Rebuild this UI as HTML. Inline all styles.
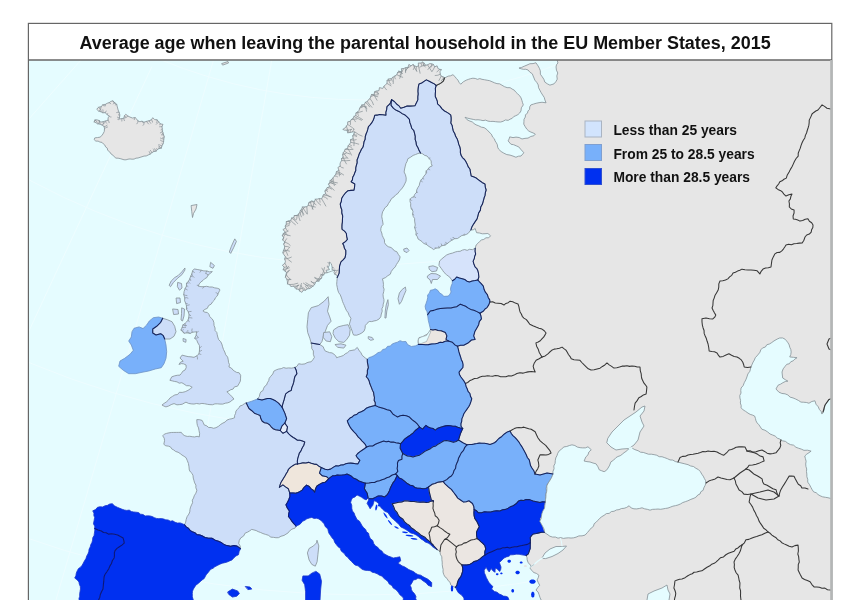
<!DOCTYPE html>
<html><head><meta charset="utf-8"><title>Average age when leaving the parental household</title>
<style>
html,body{margin:0;padding:0;background:#fff;}
body{width:850px;height:600px;overflow:hidden;position:relative;font-family:"Liberation Sans",sans-serif;}
#map{position:absolute;left:0;top:0;filter:blur(0.45px);}
#title{position:absolute;left:28px;top:25.3px;width:804px;height:36px;line-height:36px;text-align:left;padding-left:51.5px;box-sizing:border-box;font-weight:bold;font-size:17.94px;color:#111;letter-spacing:0px;white-space:nowrap;filter:blur(0.35px);}
.lg{position:absolute;left:613.4px;font-weight:bold;font-size:13.82px;color:#111;white-space:nowrap;line-height:14px;filter:blur(0.35px);}
</style></head><body>
<svg id="map" width="850" height="608" viewBox="0 0 850 608">
<defs><clipPath id="c"><rect x="29" y="60" width="803" height="548"/></clipPath></defs>
<rect x="28.4" y="23.4" width="803.4" height="600" fill="#fff" stroke="#666" stroke-width="1.2"/>
<rect x="29" y="60" width="803" height="548" fill="#e5fcff"/>
<g clip-path="url(#c)" stroke-linejoin="round" stroke-linecap="round">
<g fill="none" stroke="#eefdff" stroke-width="1">
<path d="M271.8,60 L177,600"/><path d="M213.5,60 L56,600"/><path d="M151.7,67 L28,333"/><path d="M81,60 L28,120"/>
<circle cx="365" cy="-440" r="540"/><circle cx="365" cy="-440" r="705"/><circle cx="365" cy="-440" r="870"/><circle cx="365" cy="-440" r="1035"/>
</g>
<path d="M444.5,78 L448.1,76.17 L450.56,75.81 L452.94,74.7 L454.86,76.48 L456.29,78.38 L457.9,80.1 L459.05,82.33 L460.69,84.23 L463.34,81.8 L466.16,80.2 L468.31,79.42 L470.59,78.66 L472.92,78.21 L475.28,78.46 L477.47,79.33 L479.8,78.59 L482.01,79.33 L484.58,79.75 L487.12,80.23 L489.67,80.7 L492.07,81.73 L494.49,82.8 L496.96,83.63 L499.62,83.84 L501.94,85.2 L504.42,86.65 L507.09,87.64 L510.12,87.69 L512.18,89.07 L514.32,90.18 L515.87,92.19 L517.72,93.96 L519.67,95.72 L521.07,97.94 L521.86,100.28 L522.52,102.61 L523.3,104.91 L521.36,107.79 L520.96,110.99 L519.67,113 L517.95,114.61 L515.74,115.74 L513.78,116.55 L512.18,118.36 L510.09,119.18 L508.18,120.37 L505.39,119.96 L503.06,121.32 L500.61,122.03 L497.99,121.94 L495.51,121.68 L493.01,121.36 L490.48,121.48 L487.99,121.11 L485.56,120.15 L482.99,120.64 L480.52,120.09 L478.02,119.76 L475.6,119.88 L473.26,119.42 L470.93,118.95 L467.95,118.27 L465.03,117.26 L467.11,119.74 L469.92,121.12 L472.27,121.93 L474.08,123.54 L476.1,124.85 L478.73,125.82 L481.28,127.15 L484.13,127.64 L486.85,129.56 L489.02,131.97 L491.39,134.18 L492.72,137.23 L494.41,138.8 L495.09,140.96 L496.36,142.82 L497.37,144.82 L497.65,147.17 L498.65,149.18 L501.09,151.51 L503.86,153.18 L506.81,154.58 L509.97,155.08 L512.98,156.06 L515.92,157.24 L518.44,156.21 L521,156.02 L523.81,152.81 L522.38,151.09 L520.68,149.24 L518.84,146.94 L516.13,145.79 L513.62,144.71 L510.91,144.23 L508.1,140.9 L509.07,139.04 L509.74,136.87 L513,137.62 L516,137.1 L519.16,137.52 L522.01,138.97 L524.97,138.35 L528.02,138.1 L530.82,136.47 L533.91,135.73 L535.3,134.15 L533.05,132.9 L530.95,132.11 L528.66,130.95 L526.85,129.2 L525.2,126.68 L523.77,124.14 L523.93,121.61 L524,119.24 L525.34,117.05 L525.44,114.72 L527.46,113.23 L527.97,110.98 L529.6,109.3 L529.71,106.85 L530.87,104.93 L533.53,104.07 L536.11,103.28 L539.03,102.67 L542.04,102.25 L546.05,102.8 L544.93,100.02 L544.23,97.41 L542.69,95.13 L541.17,92.7 L539.8,90.12 L538.56,87.68 L538.22,84.91 L536.72,82.37 L534.8,80.12 L534,78 L533.11,75.94 L532.33,73.83 L529.85,72.15 L528.02,69.98 L525.8,69.26 L523.43,69.33 L521.18,68.82 L518.99,68.06 L521.66,67.4 L524.11,66.27 L527.02,65.05 L529.91,63.73 L533.02,63.6 L535.96,62.77 L538.09,65.94 L539.39,68.34 L540.33,70.87 L540.37,74.21 L542.29,76.9 L543.87,79.28 L544.83,82.1 L547.31,83.82 L549.92,85.13 L553.97,83.89 L555.84,81.7 L557.27,79.16 L556.83,75.89 L557.78,72.96 L556.44,70.19 L556.06,66.98 L556.49,64.74 L557.95,62.97 L557.23,60.39 L557.36,57.66 L557,55 L840,55 L840,606 L535,606 L537.06,604.09 L539.15,602.21 L541.18,600.28 L539.91,597.26 L539.03,594.49 L538.05,591.97 L535.99,590.08 L537.84,587.44 L539.69,585.24 L538.36,582.74 L537.09,579.95 L538.27,577.67 L538.92,575.27 L536.48,573.45 L533.53,572.45 L531.99,570.41 L530.11,568.69 L530.77,565.19 L529.68,564.52 L528.1,562.38 L527.15,559.9 L527.03,557.65 L526.1,555.5 L515,530 L500,480 L450,455 L440,400 L440,352 L442,325 L450,300 L462,266 L475.2,248.3 L476.12,245.02 L477.93,243.27 L479.57,241.56 L481.45,239.95 L483.79,239.41 L485.97,237.77 L488.7,237.8 L490.56,235.78 L487.9,233.5 L485.03,233.71 L482.3,233.82 L479.51,233.03 L476.62,232.69 L475.83,230.62 L475.21,228.53 L473.25,229.82 L470.9,229.9 L471.98,226.7 L473.71,223.85 L475.35,221.34 L477.07,218.87 L477.88,215.96 L478.67,212.89 L480.42,210.14 L480.74,206.91 L482.42,204.14 L483.26,201.09 L484.05,198.01 L485.04,195.43 L485.35,192.67 L486.13,189.98 L485.27,187.04 L484.99,184.02 L482.41,182.69 L480.09,181.01 L477.87,179.3 L475.79,177.71 L473.43,176.78 L471.16,175.98 L470.53,172.5 L469.93,169.04 L468.24,166.91 L467.26,164.38 L466.07,161.95 L464.56,159.51 L462.37,157.54 L460.95,155.01 L460.35,152.37 L460.43,149.66 L459.86,147.05 L458.76,144.42 L458.09,141.63 L457.19,138.91 L455.64,136.34 L454.7,133.48 L453.25,130.94 L452.63,128.26 L452.17,125.54 L450.78,123.01 L451.14,120.31 L451.13,117.64 L450.67,114.81 L447.47,112.61 L444.53,111.02 L441.96,108.85 L440.07,106.13 L437.53,103.92 L437.35,101.4 L436.5,99.08 L435.34,96.8 L435.26,94 L435.53,91.2 L435.33,88.29 L436.2,85.5 L440.5,83.4 L443.3,81.2 L444.5,78Z" fill="#e6e6e6" stroke="#848f96" stroke-width="0.8"/>
<path d="M97,109 L98.64,107.15 L101.24,106.76 L102.72,104.78 L105.19,104.47 L107.16,103.29 L109.13,102.71 L110.9,101.37 L112.95,100.86 L114.79,102.78 L116.73,104.36 L117.08,106.04 L117.6,108.01 L118.11,109.98 L119.14,112.44 L119.8,115.08 L119.61,117.03 L118.97,118.99 L121.54,118.71 L124.02,118.12 L124.36,115.84 L125.77,114.27 L127.82,115.98 L129.96,117.06 L132.39,118.03 L135.08,117.58 L136.8,119.2 L138,121 L139.94,121.72 L142.08,121.19 L143.96,122.25 L146.47,121.36 L148.96,120.82 L151.32,119.92 L152.77,117.7 L154.69,119.62 L157.08,119.84 L158.68,121.87 L160.23,123.83 L163,124.37 L161.96,126.58 L162.26,129.06 L162.42,131.02 L163.06,132.99 L163.65,134.95 L164.25,136.9 L163.81,139.03 L163.63,141.53 L163.03,144.01 L161.85,145.93 L161.34,148.17 L159.07,148.56 L157.34,149.46 L156.12,151.2 L153.77,151.55 L151.86,152.72 L150.09,154.17 L148.12,155.02 L146.21,155.96 L144.03,156.08 L142.02,156.74 L140.01,157.35 L138.01,158.02 L135.99,158.17 L134.07,159.1 L132.05,159.19 L129.99,158.94 L128,159.19 L126.04,159.82 L124.03,159.81 L121.97,159.14 L120.12,158.6 L118.09,158.18 L115.96,158.13 L114.25,156.77 L112.87,155.08 L111.04,153.95 L109.68,151.87 L107.64,150.27 L107.29,148.16 L105.59,146.91 L104.86,145.09 L103.36,143.96 L102.04,142.38 L99.95,142.08 L98.07,141.11 L95.85,141.11 L94.13,139.6 L94.78,137.89 L97.51,137.56 L100.03,137.17 L101.73,135.73 L102.96,133.96 L104.22,131.59 L104.56,128.83 L104.12,126.53 L102.04,124.97 L100.05,124.11 L97.86,123.87 L95.99,122.78 L94.05,121.87 L94.92,119.96 L97.15,119.91 L99.12,120.53 L100.85,122.08 L103.07,121.73 L105.51,121.02 L108.08,120.19 L108.07,117.89 L109.29,116.07 L106.98,114.53 L105.26,112.66 L102.85,112.78 L100.96,111.78 L98.96,111.13Z" fill="#e6e6e6" stroke="#848f96" stroke-width="0.8"/>
<path d="M337.3,277.4 L337.11,275.31 L334.92,274.4 L334,272.74 L334.59,270.46 L331.94,269.61 L332.26,267.52 L331.76,265.54 L331.21,263.58 L329.6,262.02 L329.35,263.61 L329.26,265.6 L328.19,267.35 L329.4,269.71 L326.14,270.3 L327.24,272.73 L324.67,272.94 L323.82,274.82 L322.02,275.53 L321.65,278.1 L319.93,279.23 L319,281.15 L316.35,281.35 L315.23,282.85 L314.48,284.82 L313.11,286.07 L311.6,287.17 L309.68,288.56 L307.2,288.85 L305.46,290.29 L303.35,290.07 L301.9,292.37 L299.55,291.01 L298.72,289.28 L296.43,289.03 L294.95,287.64 L293.47,286.21 L290.78,286.5 L289.72,284.58 L287.51,283.99 L287.36,281.34 L286.88,279.32 L285.36,277.08 L286.2,274.61 L286.37,272.52 L285.05,270.99 L283.14,269.69 L284.23,267.21 L282.35,265.27 L284.88,263.33 L285.44,261.24 L284.65,259.04 L285.36,256.77 L283.94,254.74 L282.84,252.69 L283.45,250.5 L284.39,248.43 L284.65,246.32 L283.68,244.1 L285,242.07 L282.63,239.99 L283.84,237.75 L282.3,235.74 L283.25,233.52 L285.21,231.82 L282.86,229.6 L285.69,228.07 L285.22,226.1 L286.23,224.3 L286.32,221.58 L288.71,220.93 L290.79,220.5 L291.65,217.95 L293.82,217.68 L294.22,215.67 L297.22,215.42 L298.6,213.95 L299.82,212.36 L300.36,210.27 L301.72,209.19 L302.5,206.89 L304.77,206.95 L306.81,206.66 L308.24,205.39 L308.71,202.82 L310.18,201.77 L311.81,200.97 L314.42,201.64 L315.33,199.14 L317.47,199.1 L319.37,198.53 L321.67,198.85 L322.73,196.4 L323.37,194.85 L325.71,193.8 L324.91,191 L326.12,189.31 L327.25,187.58 L329.9,186.63 L328.44,184.15 L329.8,182.6 L330.06,180.69 L331.82,179.27 L333.12,177.78 L334.55,175.88 L335.99,173.99 L336.38,171.69 L338.91,170.46 L337.93,167.47 L340.2,166.1 L340.02,164.01 L340.56,162.19 L341.67,160.56 L341.52,158.51 L343.16,157.05 L342.62,154.68 L343.28,152.81 L344.42,151.16 L345.08,149.3 L347.62,148.28 L348.03,146.01 L349.48,144.24 L350.75,142.37 L350.46,139.73 L353.21,138.61 L352.69,135.84 L353.89,133.95 L354.98,131.99 L352.39,131.93 L349.91,132.53 L347.79,132.8 L346.99,130.14 L344.64,130.19 L342.78,129.39 L345.14,127.89 L346.41,126.15 L347.62,124.37 L347.74,121.82 L350.26,121.32 L351.29,119.55 L353.05,118.44 L353.9,116.51 L355.79,115.5 L355.97,112.97 L357.8,111.85 L359.07,110.31 L359.66,108.24 L360.81,106.61 L361.86,104.89 L364.35,104.64 L365.27,102.32 L367.33,101.59 L368.33,99.78 L370.04,98.66 L370.75,96.56 L371.54,94.5 L374.22,94.37 L374.53,91.84 L376.52,91.02 L378.96,90.64 L379.47,87.59 L382.73,88.46 L383.89,86.33 L385.36,84.76 L387.03,83.44 L387.08,80.63 L388.42,78.99 L391.19,78.67 L392.95,77.21 L394.95,75.94 L396.95,74.67 L397.57,72.53 L398.76,71.13 L401.69,71.87 L401.37,68.62 L403.62,68.52 L405.69,67.65 L408.11,67.33 L408.91,64.37 L410.96,65.95 L413.09,64.46 L414.65,65.91 L416.36,66.61 L418.48,65.99 L418.32,62.97 L420.89,63.14 L422.58,62.12 L424.21,63.22 L425.65,65.27 L427.58,64.82 L429.85,63.54 L431.69,63.88 L433.44,64.51 L434.65,66.88 L437.08,65.81 L438.04,68.6 L439.79,69.36 L441.69,69.73 L439.94,71.35 L440.27,74.14 L441.16,76.17 L443.08,76.83 L444.5,78 L443.3,81.2 L440.5,83.4 L436.2,85.5 L434.27,83.85 L432,82.7 L429.18,81.19 L426.34,79.86 L424.04,81.41 L421.74,82.96 L418.96,84.05 L418.44,86.41 L418.13,88.81 L417.96,91.2 L418.22,94.03 L417.82,96.87 L417.87,99.73 L416.43,102.86 L415,105.7 L412.4,106.07 L409.8,106.13 L407.18,105.93 L404.04,107.21 L400.7,108.3 L398.96,105.8 L396.55,103.96 L394.35,101.5 L391.6,99.7 L390.81,102.26 L389.37,104.42 L386.94,106.72 L386.66,109.55 L385.85,112.33 L385.99,115.25 L382.8,114.84 L379.6,114.51 L377.14,115.14 L374.73,115.25 L374.09,117.95 L373.09,120.53 L371.68,122.88 L370.12,124.92 L368.45,126.67 L367.83,129.17 L367.08,131.63 L366.08,134.02 L365.31,136.48 L365.18,139.21 L364.03,141.71 L363.63,144.38 L363.05,147.03 L361.47,149.22 L360.34,151.67 L359.17,154.06 L358.23,157.08 L357.07,160.01 L357.18,162.73 L356.39,165.34 L355.76,167.93 L355.76,170.45 L354.81,172.71 L353.97,174.99 L352.73,177.22 L352.42,179.85 L351.1,181.8 L354.8,183.97 L354.57,187.01 L354.03,190.18 L350.98,190.39 L347.77,190.77 L345.21,193.21 L343.09,196.03 L341.65,198.54 L341.33,201.46 L340.26,203.94 L340.73,206.99 L341.82,209.89 L341.81,213.01 L342.68,215.97 L342.47,218.99 L342.4,222 L342.06,224.39 L341.95,226.79 L342.06,229.34 L344.56,231.14 L346.38,233.52 L346.67,236.37 L347.41,239.41 L345.44,241.64 L342.72,243.51 L343.89,245.78 L344.44,248.3 L345.82,250.5 L345.78,254.08 L345.07,257.57 L343.13,259.88 L340.93,261.84 L339.58,266.1 L339.35,269.65 L339.19,273.1 L337.3,277.4Z" fill="#e6e6e6" stroke="#848f96" stroke-width="0.8"/>
<path d="M337.3,277.4 L339.19,273.1 L339.35,269.65 L339.58,266.1 L340.93,261.84 L343.13,259.88 L345.07,257.57 L345.78,254.08 L345.82,250.5 L344.44,248.3 L343.89,245.78 L342.72,243.51 L345.44,241.64 L347.41,239.41 L346.67,236.37 L346.38,233.52 L344.56,231.14 L342.06,229.34 L341.95,226.79 L342.06,224.39 L342.4,222 L342.47,218.99 L342.68,215.97 L341.81,213.01 L341.82,209.89 L340.73,206.99 L340.26,203.94 L341.33,201.46 L341.65,198.54 L343.09,196.03 L345.21,193.21 L347.77,190.77 L350.98,190.39 L354.03,190.18 L354.57,187.01 L354.8,183.97 L351.1,181.8 L352.42,179.85 L352.73,177.22 L353.97,174.99 L354.81,172.71 L355.76,170.45 L355.76,167.93 L356.39,165.34 L357.18,162.73 L357.07,160.01 L358.23,157.08 L359.17,154.06 L360.34,151.67 L361.47,149.22 L363.05,147.03 L363.63,144.38 L364.03,141.71 L365.18,139.21 L365.31,136.48 L366.08,134.02 L367.08,131.63 L367.83,129.17 L368.45,126.67 L370.12,124.92 L371.68,122.88 L373.09,120.53 L374.09,117.95 L374.73,115.25 L377.14,115.14 L379.6,114.51 L382.8,114.84 L385.99,115.25 L385.85,112.33 L386.66,109.55 L386.94,106.72 L389.37,104.42 L390.81,102.26 L391.6,99.7 L391.16,102.49 L391.1,105.32 L393.48,108.41 L396.31,110.35 L399.41,111.68 L402.1,113.6 L405.1,115.04 L407.37,117.13 L409.4,119.4 L409.79,122.4 L410.88,125.15 L411.69,128.24 L413.85,130.67 L414.63,133.57 L415.26,136.44 L415.17,139.38 L416.08,142.14 L416.42,145 L417.87,147.41 L418.92,150.04 L420.5,153 L417.96,153.53 L415.56,154.54 L413.11,155.4 L410.63,157.17 L407.83,158.79 L407.1,161.38 L405.9,163.62 L405.26,166.11 L404.6,169.02 L404.11,172.02 L405.48,174.84 L406.2,177.93 L406.06,181.09 L404.69,183.95 L403.66,186 L402.32,187.99 L400.81,189.87 L399.14,191.48 L397.87,193.53 L395.77,194.77 L393.94,196.94 L391.55,198.55 L390.13,201.13 L388.5,203.46 L387.16,206.02 L384.79,207.85 L383.84,209.92 L382.61,211.81 L382.09,214.05 L381.75,216.74 L382.32,219.38 L382.74,222.03 L383.14,224.32 L381.56,226.25 L380.88,228.38 L380.81,230.66 L381.77,233.01 L382.24,235.41 L383.28,237.64 L384.46,239.91 L384.52,242.64 L385.89,244.84 L388.18,246.7 L391.01,247.51 L392.88,249 L394.43,250.86 L396.78,251.66 L398.33,254.42 L400.13,256.88 L399.39,259.83 L397.8,262.43 L396.41,264.53 L395.27,266.85 L393.1,269.03 L391.28,271.46 L390.3,274.21 L387.78,275.74 L385.39,277.69 L382.43,278.85 L383.15,281.6 L383.47,284.45 L383.24,286.88 L384.1,289.18 L383.72,291.61 L383.04,294.32 L383.24,297.09 L383.95,299.47 L383.93,301.83 L383.2,304.2 L383.01,306.53 L381.89,308.73 L382.21,311.22 L381.3,314.02 L380.78,316.92 L378.92,319.14 L376.4,320.5 L374.03,320.95 L371.7,321.6 L369.22,321.49 L367.01,323.43 L365.27,325.6 L365.07,328.42 L364.03,331.18 L361.82,332.91 L359.57,334.17 L356.7,335.2 L353.64,335.07 L352.75,333.28 L352.19,331.14 L351.23,328.79 L350.36,326.39 L349.38,324.05 L350.23,321.16 L350.96,318.31 L349.24,315.63 L348.1,312.7 L346.47,310.55 L345.33,308.15 L344.37,305.66 L343.42,303.56 L342.5,301.45 L341.89,299.22 L341.15,297.04 L340.17,294.69 L338.64,292.56 L337.82,290.15 L337.24,287.32 L336.7,284.55 L336.84,281.65 L337.3,277.4Z" fill="#cddef9" stroke="#848f96" stroke-width="0.8"/>
<path d="M420.5,153 L418.92,150.04 L417.87,147.41 L416.42,145 L416.08,142.14 L415.17,139.38 L415.26,136.44 L414.63,133.57 L413.85,130.67 L411.69,128.24 L410.88,125.15 L409.79,122.4 L409.4,119.4 L407.37,117.13 L405.1,115.04 L402.1,113.6 L399.41,111.68 L396.31,110.35 L393.48,108.41 L391.1,105.32 L391.16,102.49 L391.6,99.7 L394.35,101.5 L396.55,103.96 L398.96,105.8 L400.7,108.3 L404.04,107.21 L407.18,105.93 L409.8,106.13 L412.4,106.07 L415,105.7 L416.43,102.86 L417.87,99.73 L417.82,96.87 L418.22,94.03 L417.96,91.2 L418.13,88.81 L418.44,86.41 L418.96,84.05 L421.74,82.96 L424.04,81.41 L426.34,79.86 L429.18,81.19 L432,82.7 L434.27,83.85 L436.2,85.5 L435.33,88.29 L435.53,91.2 L435.26,94 L435.34,96.8 L436.5,99.08 L437.35,101.4 L437.53,103.92 L440.07,106.13 L441.96,108.85 L444.53,111.02 L447.47,112.61 L450.67,114.81 L451.13,117.64 L451.14,120.31 L450.78,123.01 L452.17,125.54 L452.63,128.26 L453.25,130.94 L454.7,133.48 L455.64,136.34 L457.19,138.91 L458.09,141.63 L458.76,144.42 L459.86,147.05 L460.43,149.66 L460.35,152.37 L460.95,155.01 L462.37,157.54 L464.56,159.51 L466.07,161.95 L467.26,164.38 L468.24,166.91 L469.93,169.04 L470.53,172.5 L471.16,175.98 L473.43,176.78 L475.79,177.71 L477.87,179.3 L480.09,181.01 L482.41,182.69 L484.99,184.02 L485.27,187.04 L486.13,189.98 L485.35,192.67 L485.04,195.43 L484.05,198.01 L483.26,201.09 L482.42,204.14 L480.74,206.91 L480.42,210.14 L478.67,212.89 L477.88,215.96 L477.07,218.87 L475.35,221.34 L473.71,223.85 L471.98,226.7 L470.9,229.9 L468.18,233.35 L466.23,234.46 L464.05,235.1 L461.78,235.56 L459.94,236.85 L457.53,238.53 L454.56,238.71 L452.03,240.05 L449.65,241.68 L447.39,243.49 L444.97,245.14 L441.7,245.76 L439.16,247.86 L436.01,248.1 L433.62,249.55 L431.41,247.88 L429.04,246.52 L426.48,244.53 L423.52,243.37 L421.94,241.53 L419.98,240.22 L418.14,239.1 L417.35,236.76 L415.98,234.59 L416.1,232.06 L415.33,229.75 L414.62,227.43 L415.28,225 L414.62,221.11 L414.62,218.58 L413.23,216.46 L412.64,214.09 L412.99,211.17 L411.3,208.76 L410.62,206.05 L410.73,203.66 L410,201.38 L410.11,199.21 L411.71,197.42 L413.76,196.9 L414.59,194.49 L416.42,192.51 L416.72,189.88 L417.83,187.59 L419.24,185.44 L419.75,182.86 L420.79,180.35 L422.6,178.3 L424.04,176.02 L425.83,173.95 L426.11,171.01 L428.13,169.17 L429.6,166.97 L432.2,165.96 L431.27,163.55 L431.17,160.86 L429.04,158.46 L427,155.99 L424.66,155.38 L422.73,153.87 L420.5,153Z" fill="#cddef9" stroke="#848f96" stroke-width="0.8"/>
<path d="M405.1,287.3 L402.2,289.4 L399.4,293 L398,298.7 L399.4,304.3 L401.5,301.5 L403.7,295.8 L405.8,290.9Z" fill="#cddef9" stroke="#848f96" stroke-width="0.8"/>
<path d="M387.8,300 L386.2,305 L385.3,311 L384.9,318 L386,318 L386.8,311 L388.3,305Z" fill="#cddef9" stroke="#848f96" stroke-width="0.8"/>
<path d="M404,249 L407,248 L409,250.5 L407,252.6 L404.5,251.5Z" fill="#cddef9" stroke="#848f96" stroke-width="0.8"/>
<path d="M475.2,248.3 L472.51,249.64 L469.41,249.32 L467.18,250.39 L464.69,249.55 L462.36,250.13 L460.1,251.3 L457.66,251.41 L455.32,251.98 L452.54,253.07 L449.61,253.77 L446.65,254.99 L444.09,256.98 L441.81,258.91 L439.59,260.99 L438.92,265.29 L441.47,268.73 L442.72,270.55 L444,272.4 L446.59,274.78 L449.83,277.21 L450.99,278.98 L452.4,280.7 L454.82,279.22 L456.64,277.02 L459.42,278.11 L462.23,278.79 L464.76,279.52 L466.9,281.16 L469.45,282 L472.16,281.04 L475.08,280.6 L477.9,280 L478.85,277.01 L478.47,273.23 L477.86,270.79 L476.83,268.58 L475.01,266.77 L473.88,263.99 L473.1,261.14 L474.24,258.85 L474.7,256.27 L475.66,254.03 L475.05,251.21 L475.2,248.3Z" fill="#d6e3fb" stroke="#848f96" stroke-width="0.8"/>
<path d="M429.2,266.5 L433,265.8 L437.6,267.5 L436.5,271 L432,271.7 L429.5,269.5Z" fill="#cddef9" stroke="#848f96" stroke-width="0.8"/>
<path d="M427.7,275.8 L431,273.5 L436,273.8 L440.5,276 L437.5,279.5 L432.5,279.5 L431.3,283.5 L430,279.8 L427.7,278Z" fill="#cddef9" stroke="#848f96" stroke-width="0.8"/>
<path d="M452.4,280.7 L452.2,283.62 L451.06,286.31 L450.51,289.15 L451.04,292 L449.91,294.31 L448.08,296.12 L443.9,296.36 L441.88,294.36 L439.55,292.87 L437.8,290.34 L435.14,288.77 L433.07,289.82 L430.36,290.27 L429.53,293.03 L427.68,294.85 L427.69,297.7 L427,300.51 L426.11,303.33 L425.13,306.11 L425.59,309.15 L427.06,311.76 L427.6,314.7 L430.31,310.95 L433.76,310.38 L436.88,309.24 L440.34,308.52 L443.89,308.15 L447.45,307.97 L451,308.02 L453.78,307.3 L456.65,306.71 L460.35,304.18 L463.1,305.32 L465.63,306.24 L467.89,307.86 L470.65,309.41 L473.82,310.16 L476.93,311.62 L480,313.2 L483.53,311.03 L484.98,308.98 L487.05,307.58 L488.75,304.87 L489.9,301.9 L489.72,299.9 L488.21,297.46 L487.36,294.67 L485.38,292.16 L484.04,289.33 L483.32,286.11 L481.21,283.69 L479.49,281.91 L477.9,280 L475.08,280.6 L472.16,281.04 L469.45,282 L466.9,281.16 L464.76,279.52 L462.23,278.79 L459.42,278.11 L456.64,277.02 L454.82,279.22 L452.4,280.7Z" fill="#78b0fa" stroke="#6c90c4" stroke-width="0.8"/>
<path d="M427.6,314.7 L428.3,320.3 L429.7,326 L430.5,329.5 L432.95,329.98 L435.4,329.43 L438.16,330.59 L441.14,330.84 L445.3,332.39 L446.84,335.84 L445.97,339.39 L448.2,340.9 L452.4,342.3 L455.2,345.1 L457.5,346.2 L460.53,345.28 L463.77,345.23 L468.02,343.03 L471.46,340.01 L475.09,339.4 L473.66,335.89 L474.83,331.57 L477.2,327.4 L478.66,324.7 L479.28,321.68 L481.43,318.89 L480.94,315.99 L480,313.2 L476.93,311.62 L473.82,310.16 L470.65,309.41 L467.89,307.86 L465.63,306.24 L463.1,305.32 L460.35,304.18 L456.65,306.71 L453.78,307.3 L451,308.02 L447.45,307.97 L443.89,308.15 L440.34,308.52 L436.88,309.24 L433.76,310.38 L430.31,310.95 L427.6,314.7Z" fill="#78b0fa" stroke="#6c90c4" stroke-width="0.8"/>
<path d="M430.5,329.5 L432.95,329.98 L435.4,329.43 L438.16,330.59 L441.14,330.84 L445.3,332.39 L446.84,335.84 L445.97,339.39 L448.2,340.9 L445.26,341.25 L442.55,342.48 L440.04,342.29 L437.77,343.24 L435.41,343.77 L431.84,343.92 L428.32,344.62 L425.47,344.74 L422.63,344.49 L419.8,344.58 L418.4,344.4 L418.17,340.86 L419.15,337.57 L422.78,336.76 L424.72,335.39 L426.85,334.47 L429.06,332.26 L430.5,329.5Z" fill="#ebe6e2" stroke="#848f96" stroke-width="0.8"/>
<path d="M418.6,338.5 L422,336.8 L426.5,335.5 L429.5,331 L430.8,331.5 L428.5,337 L426.5,341.5 L421,343.6 L418.6,343.2Z" fill="#e5fcff" stroke="#848f96" stroke-width="0.5"/>
<path d="M418.4,344.4 L415.63,345.85 L411.3,346.48 L407.67,344.62 L405.88,341.47 L402.8,341.65 L400.02,340.71 L397.47,342.16 L394.74,342.97 L392.26,343.95 L390.36,346.08 L387.53,346.37 L385.72,348.84 L382.71,349.51 L380.91,351.89 L378.07,352.6 L375.91,354.37 L373.56,355.83 L371.4,356.84 L369.08,357.58 L367.3,359.3 L367.37,362.07 L367.86,364.78 L368.35,367.51 L367.36,370.5 L367.37,373.7 L366.25,376.77 L368.03,378.73 L369.16,381.02 L369.78,383.56 L370.73,385.88 L371.63,388.12 L372.46,390.38 L373.6,392.55 L373.83,395 L374.46,397.58 L374.15,400.3 L375.31,402.81 L375.2,405.5 L378.3,406.89 L381.12,407.66 L383.86,408.6 L387.05,409.68 L390.34,410.57 L393.04,414.24 L395.3,415.64 L397.58,416.93 L400.22,415.7 L403.06,415.32 L406.38,415.82 L409.44,417.07 L411.97,419.64 L414.84,421.73 L417.48,424.2 L419.6,427.1 L422.63,429.13 L424.26,427.16 L425.96,425.36 L428.11,426.97 L430.58,428.04 L433.1,428.47 L435.34,430.18 L437.8,428.2 L440.72,427.2 L443.12,426.43 L445.56,425.87 L447.97,425.55 L450.45,425.7 L452.89,426.27 L455.38,426.26 L457.72,427.32 L460.18,428.01 L462.7,428.5 L461.02,426.21 L460.92,423.73 L461.7,421.36 L461.83,418.91 L462.93,416.4 L463.84,413.79 L465.35,411.47 L467.02,409.12 L468.7,406.78 L470.01,404.2 L470.97,401.46 L471.76,398.77 L470.52,396.31 L469.92,393.52 L468.06,391.35 L467.16,388.74 L466,386.22 L465.4,383.5 L464.04,381.14 L462.43,378.95 L460.76,376.76 L459.48,374.59 L459.06,372.15 L460.89,369.83 L462.88,367.5 L463.07,364.75 L462.54,362.06 L461.35,359.73 L460.63,357.21 L459.82,354.72 L458.92,351.92 L458.32,349.03 L457.5,346.2 L455.2,345.1 L452.4,342.3 L448.2,340.9 L445.26,341.25 L442.55,342.48 L440.04,342.29 L437.77,343.24 L435.41,343.77 L431.84,343.92 L428.32,344.62 L425.47,344.74 L422.63,344.49 L419.8,344.58 L418.4,344.4Z" fill="#78b0fa" stroke="#6c90c4" stroke-width="0.8"/>
<path d="M294.9,367.5 L297.16,366.06 L298.6,363.75 L301.8,364.26 L305.02,363.86 L306.99,362.68 L309.11,362.04 L311.14,361.84 L312.88,359.75 L314.39,357.37 L313.33,354.26 L313.41,350.96 L311.73,348.46 L311.66,345.48 L311.2,343.1 L319.7,344.5 L323.22,346.74 L324.03,348.96 L325.33,351.1 L327.48,351.82 L329.53,352.64 L332.03,352.89 L334.04,354.29 L335.75,355.85 L336.61,357.74 L338.74,356.97 L340.88,356.42 L343.33,355.49 L345.27,353.81 L347.57,352.64 L349.47,350.8 L351.99,350.35 L354.64,349.83 L357.25,347.43 L359.41,350.89 L361.02,352.85 L362.08,355.22 L365.16,357.9 L367.3,359.3 L367.37,362.07 L367.86,364.78 L368.35,367.51 L367.36,370.5 L367.37,373.7 L366.25,376.77 L368.03,378.73 L369.16,381.02 L369.78,383.56 L370.73,385.88 L371.63,388.12 L372.46,390.38 L373.6,392.55 L373.83,395 L374.46,397.58 L374.15,400.3 L375.31,402.81 L375.2,405.5 L372.2,406.18 L369.25,407.1 L366.17,408.34 L363.65,410.53 L361.22,411.75 L358.61,412.63 L356.52,414.54 L354.08,415.22 L352.21,416.97 L349.98,418.04 L347.28,420.78 L348.31,423.57 L349.64,426.33 L351.56,429.08 L353.7,431.63 L356.21,434.19 L358.31,437.11 L360.25,438.81 L361.86,440.87 L363.7,442.7 L365.45,444.62 L366.5,447 L364.36,448.75 L362.07,450.29 L359.74,451.84 L357.7,453.5 L356.06,455.81 L357.79,458.21 L359.89,460.3 L358,463.86 L355.54,463.84 L353.13,463.36 L350.73,463.13 L348.18,463.25 L345.73,463.77 L343.41,464.86 L340.91,464.97 L338.52,465.9 L335.96,465.74 L333.12,467.4 L330.5,469.13 L327.75,469.7 L325.05,469.29 L321.3,467.6 L318.53,465.96 L316.5,464.37 L313.93,464.11 L311.17,463.26 L308.54,462.37 L305.84,463.08 L302.97,462.8 L300.25,463.43 L297.5,463.9 L297.33,461.11 L297.73,458.39 L298.53,455.77 L299.3,453.07 L301,450.83 L302.02,448.27 L303.8,445.25 L304.79,441.96 L302.42,441.07 L300.03,440.29 L297.38,440.28 L295.41,438.72 L293.25,437.44 L291.14,436.06 L288.77,433.83 L286.6,431.4 L287.5,426.9 L284.8,423.2 L286.6,418.6 L284.8,413.1 L282,407 L282.61,404.53 L283.34,402.09 L284.13,399.68 L284.82,396.84 L285.67,393.91 L288.27,391.83 L291.29,390.4 L291.78,387.51 L292.89,384.87 L293.71,382.18 L294.16,379.48 L294.92,376.41 L296.86,373.88 L296.3,370.57 L294.9,367.5Z" fill="#cddef9" stroke="#848f96" stroke-width="0.8"/>
<path d="M294.9,367.5 L291.7,368.11 L288.5,367.92 L286.12,368.22 L283.57,367.55 L281.23,368.65 L278.62,369.03 L276.14,369.92 L273.8,371.2 L272.79,374.01 L270.77,376.28 L269.22,378.21 L268.71,380.73 L267.37,382.78 L266.61,384.93 L264.73,386.33 L263.62,388.25 L263.02,390.51 L260.92,391.76 L259.93,393.75 L259.27,396.65 L257.5,399 L261.96,400.11 L264.63,399.3 L267.44,398.52 L270.2,398.53 L272.86,399.54 L275.81,401.08 L278.54,403.11 L280.24,405.11 L282,407 L282.61,404.53 L283.34,402.09 L284.13,399.68 L284.82,396.84 L285.67,393.91 L288.27,391.83 L291.29,390.4 L291.78,387.51 L292.89,384.87 L293.71,382.18 L294.16,379.48 L294.92,376.41 L296.86,373.88 L296.3,370.57 L294.9,367.5Z" fill="#cddef9" stroke="#848f96" stroke-width="0.8"/>
<path d="M246.3,403 L251.8,401.2 L257.5,399 L261.96,400.11 L264.63,399.3 L267.44,398.52 L270.2,398.53 L272.86,399.54 L275.81,401.08 L278.54,403.11 L280.24,405.11 L282,407 L284.8,413.1 L286.6,418.6 L284.8,423.2 L282,425.9 L280.2,430.5 L275.5,429.76 L273.04,428.69 L271.14,426.76 L269.55,424.71 L267.36,423.33 L264.47,422.76 L262.18,421.2 L260.81,418.6 L260.1,415.59 L257.29,414.37 L254.39,413.23 L251.8,410.74 L248.98,408.51 L247.58,405.79 L246.3,403Z" fill="#78b0fa" stroke="#6c90c4" stroke-width="0.8"/>
<path d="M284.8,423.2 L287.5,426.9 L286.6,431.4 L283,433.3 L280.2,430.5 L282,425.9 L284.8,423.2Z" fill="#e4ecfb" stroke="#848f96" stroke-width="0.8"/>
<path d="M328.2,297.1 L329,304.2 L327.5,311.2 L329.7,316.9 L331.1,321.2 L327.5,325.4 L325.4,331.1 L323.3,336.7 L321.9,341.7 L319.7,344.5 L311.2,343.1 L309.8,338.2 L307.7,332.5 L307,326.8 L307.7,319.7 L308.4,312.7 L311.2,307.7 L318.3,305.6 L324,301.3Z" fill="#cddef9" stroke="#848f96" stroke-width="0.8"/>
<path d="M324,332.5 L329.7,331.8 L331.8,336.7 L330.4,341.7 L326.1,341 L323.3,337.5Z" fill="#cddef9" stroke="#848f96" stroke-width="0.8"/>
<path d="M333.9,329.7 L338.2,326.8 L343.8,325.4 L348.1,324.7 L350.2,329.7 L349.5,335.3 L346.7,339.6 L343.8,342.4 L338.9,341.7 L335.3,338.2 L333.2,333.9Z" fill="#cddef9" stroke="#848f96" stroke-width="0.8"/>
<path d="M335.3,344.5 L341,343.8 L346,345.2 L343.8,348.1 L338.2,347.4Z" fill="#cddef9" stroke="#848f96" stroke-width="0.8"/>
<path d="M368.6,336.7 L372.2,337.5 L373.6,339.6 L370.7,340.3 L368.6,338.9Z" fill="#cddef9" stroke="#848f96" stroke-width="0.8"/>
<path d="M246.3,403 L244.14,403.87 L242.21,405.27 L239.98,405.98 L238.91,407.8 L237.33,409.4 L235.94,411.13 L235.57,413.42 L234.61,415.46 L234.55,417.74 L231.97,418.7 L229.35,419.18 L226.9,420.12 L225.1,422.04 L222.87,423.11 L220.75,424.36 L218.55,426.26 L215.93,427.71 L213.57,428.27 L211.13,427.51 L208.7,427.52 L206.73,425.85 L204.17,424.89 L203.28,422.67 L202.15,420.46 L199.59,419.7 L196.78,419.61 L196.98,423.2 L197.44,425.62 L198.55,427.93 L198.97,430.41 L199.62,433.62 L199.26,436.93 L197.07,436.31 L194.63,436.93 L192.2,436.69 L189.77,436.28 L187.25,436.42 L184.83,435.75 L182.78,434.42 L181.26,432.34 L178.73,432.4 L176.27,432.41 L173.8,432.43 L171.34,432.49 L168.92,432.87 L166.51,433.42 L164.3,434.17 L162.69,435.85 L164.21,438.11 L164.55,440.66 L163.81,444.3 L165.81,445.81 L168.3,446.11 L170.45,446.86 L171.73,448.92 L173.69,449.96 L175.69,451.5 L178.1,452.25 L180.19,453.6 L182.03,455.06 L184.09,456.32 L186.05,457.7 L187.33,460.66 L188.43,463.53 L188.98,466.75 L189.29,470.02 L190.45,471.96 L192.11,473.5 L193,475.57 L193.25,478.04 L193.93,480.46 L194.64,482.86 L195.92,485.17 L195.85,487.82 L196.88,490.18 L195.87,493.19 L194.21,495.81 L193.56,498.05 L192.29,500.14 L192.6,502.71 L191.53,504.87 L190.59,507.1 L189.96,509.42 L189.79,511.88 L188.84,514.1 L187.12,516.61 L186.18,519.36 L185.64,522.25 L184.5,524.8 L186.12,526.91 L188.49,528.29 L190.11,530.39 L192.32,531.86 L194.91,532.74 L196.93,534.63 L199.84,534.93 L202.45,536.04 L204.95,537.43 L208.45,538.17 L212.01,538.23 L215.05,540.14 L218.4,541.24 L221.12,542.4 L223.51,544.13 L225.74,545.26 L228.22,545.71 L230.63,546.37 L233.9,545.61 L237.1,546.14 L240.5,548.7 L240.13,545.92 L238.7,543.46 L239.28,540.45 L240.75,537.88 L243.57,536.07 L245.19,533.09 L247.57,532.13 L249.69,530.87 L251.69,529.4 L254,529.96 L256.14,530.54 L258.14,531.6 L260.57,532.49 L262.95,533.57 L265.44,534.36 L268.38,535.28 L270.87,537.17 L273.45,537.34 L275.91,537.72 L278.43,537.7 L281.03,536.26 L284.06,535.41 L285.95,534.19 L287.89,533.12 L289.29,531.23 L291.86,529.16 L295.1,528.1 L296,526 L293.78,523.68 L291.8,521.16 L290.23,518.77 L288.47,516.49 L288.73,513.7 L289.41,511.05 L287.43,508.23 L285.97,504.88 L287.56,502.23 L288.87,499.48 L289.94,496.37 L289.8,493.1 L288.3,488.7 L285.54,486.87 L282.9,484.85 L279.38,487.34 L280.08,484.85 L281.03,482.31 L282.35,480.2 L283.67,478.08 L284.96,475.95 L286.13,473.8 L287.46,471.73 L288.39,469.45 L290.44,467.4 L292.81,465.69 L294.99,464.35 L297.5,463.9 L297.33,461.11 L297.73,458.39 L298.53,455.77 L299.3,453.07 L301,450.83 L302.02,448.27 L303.8,445.25 L304.79,441.96 L302.42,441.07 L300.03,440.29 L297.38,440.28 L295.41,438.72 L293.25,437.44 L291.14,436.06 L288.77,433.83 L286.6,431.4 L283,433.3 L280.2,430.5 L275.5,429.76 L273.04,428.69 L271.14,426.76 L269.55,424.71 L267.36,423.33 L264.47,422.76 L262.18,421.2 L260.81,418.6 L260.1,415.59 L257.29,414.37 L254.39,413.23 L251.8,410.74 L248.98,408.51 L247.58,405.79 L246.3,403Z" fill="#cddef9" stroke="#848f96" stroke-width="0.8"/>
<path d="M317.1,540.6 L318.8,545.9 L317.9,554.7 L317.1,561.8 L315.3,566.2 L311.8,564.4 L309.1,560 L307.4,552.9 L309.1,548.5 L313.5,545.9 L316.2,543.2Z" fill="#cddef9" stroke="#848f96" stroke-width="0.8"/>
<path d="M297.5,463.9 L300.25,463.43 L302.97,462.8 L305.84,463.08 L308.54,462.37 L311.17,463.26 L313.93,464.11 L316.5,464.37 L318.53,465.96 L321.3,467.6 L319.5,473.1 L322.3,475.8 L326.9,476.8 L328.7,478.6 L326.92,480.52 L325.04,482.34 L322.54,482.79 L320.3,483.86 L316.86,486.01 L315.48,489.04 L314.61,492.32 L313.36,490.29 L311.08,488.92 L309.33,486.44 L306.6,485.12 L303.76,487.66 L302.36,489.86 L300.26,491.36 L298.04,492.45 L295.65,493.18 L292.76,492.9 L289.8,493.1 L288.3,488.7 L285.54,486.87 L282.9,484.85 L279.38,487.34 L280.08,484.85 L281.03,482.31 L282.35,480.2 L283.67,478.08 L284.96,475.95 L286.13,473.8 L287.46,471.73 L288.39,469.45 L290.44,467.4 L292.81,465.69 L294.99,464.35 L297.5,463.9Z" fill="#efe6dc" stroke="#848f96" stroke-width="0.8"/>
<path d="M321.3,467.6 L325.05,469.29 L327.75,469.7 L330.5,469.13 L333.12,467.4 L335.96,465.74 L338.52,465.9 L340.91,464.97 L343.41,464.86 L345.73,463.77 L348.18,463.25 L350.73,463.13 L353.13,463.36 L355.54,463.84 L358,463.86 L359.89,460.3 L357.79,458.21 L356.06,455.81 L357.7,453.5 L359.74,451.84 L362.07,450.29 L364.36,448.75 L366.5,447 L369.53,446.05 L372.71,446.05 L375.39,444.3 L378.34,443.04 L380.99,442.02 L383.7,441.01 L386.07,441.78 L388.6,441.37 L390.97,442.13 L393.48,442.11 L395.91,442.69 L398.36,443.11 L400.5,443.8 L400.2,448.3 L402.8,453.5 L401.9,456.33 L401.97,459.3 L398.46,460.51 L397.44,462.97 L397.55,465.81 L397.18,468.55 L397.81,471.3 L395.6,474 L392.21,474.96 L389.27,476.96 L386.76,477.69 L384.47,478.98 L382.01,479.79 L379.57,480.79 L376.91,481.22 L374.56,482.45 L371.72,482.57 L368.98,483.06 L365.4,483.2 L361.81,482.09 L358.93,480.95 L356.34,479.29 L353.25,477.94 L350.75,475.7 L347.01,474.09 L344.63,474.8 L342.19,475.02 L339.73,475.15 L337.24,474.95 L334.87,475.81 L332.43,475.85 L328.7,478.6 L326.9,476.8 L322.3,475.8 L319.5,473.1 L321.3,467.6Z" fill="#78b0fa" stroke="#6c90c4" stroke-width="0.8"/>
<path d="M375.2,405.5 L372.2,406.18 L369.25,407.1 L366.17,408.34 L363.65,410.53 L361.22,411.75 L358.61,412.63 L356.52,414.54 L354.08,415.22 L352.21,416.97 L349.98,418.04 L347.28,420.78 L348.31,423.57 L349.64,426.33 L351.56,429.08 L353.7,431.63 L356.21,434.19 L358.31,437.11 L360.25,438.81 L361.86,440.87 L363.7,442.7 L365.45,444.62 L366.5,447 L369.53,446.05 L372.71,446.05 L375.39,444.3 L378.34,443.04 L380.99,442.02 L383.7,441.01 L386.07,441.78 L388.6,441.37 L390.97,442.13 L393.48,442.11 L395.91,442.69 L398.36,443.11 L400.5,443.8 L402.73,441.43 L404.81,438.86 L407.51,436.99 L410.2,435.2 L412.85,433.25 L414.96,430.75 L417.29,428.94 L419.6,427.1 L417.48,424.2 L414.84,421.73 L411.97,419.64 L409.44,417.07 L406.38,415.82 L403.06,415.32 L400.22,415.7 L397.58,416.93 L395.3,415.64 L393.04,414.24 L390.34,410.57 L387.05,409.68 L383.86,408.6 L381.12,407.66 L378.3,406.89 L375.2,405.5Z" fill="#78b0fa" stroke="#6c90c4" stroke-width="0.8"/>
<path d="M419.6,427.1 L422.63,429.13 L424.26,427.16 L425.96,425.36 L428.11,426.97 L430.58,428.04 L433.1,428.47 L435.34,430.18 L437.8,428.2 L440.72,427.2 L443.12,426.43 L445.56,425.87 L447.97,425.55 L450.45,425.7 L452.89,426.27 L455.38,426.26 L457.72,427.32 L460.18,428.01 L462.7,428.5 L460.3,434 L458.5,440 L456.08,441.51 L453.4,442.35 L450.02,441.3 L446.73,440.55 L443.91,440.78 L441.39,442.39 L438.53,443.92 L435.86,445.89 L432.88,446.8 L430.4,448.7 L427.63,450.06 L424.85,451.4 L422.2,453.33 L419.48,455.18 L416.12,455.92 L412.98,457.06 L410.17,456.19 L407.35,456.08 L405.01,454.83 L402.8,453.5 L400.2,448.3 L400.5,443.8 L402.73,441.43 L404.81,438.86 L407.51,436.99 L410.2,435.2 L412.85,433.25 L414.96,430.75 L417.29,428.94 L419.6,427.1Z" fill="#0030f0" stroke="#1a36cc" stroke-width="0.8"/>
<path d="M402.8,453.5 L405.01,454.83 L407.35,456.08 L410.17,456.19 L412.98,457.06 L416.12,455.92 L419.48,455.18 L422.2,453.33 L424.85,451.4 L427.63,450.06 L430.4,448.7 L432.88,446.8 L435.86,445.89 L438.53,443.92 L441.39,442.39 L443.91,440.78 L446.73,440.55 L450.02,441.3 L453.4,442.35 L456.08,441.51 L458.5,440 L463.4,443 L467,444.8 L464.83,447.31 L463.55,450.4 L461.27,452.86 L459.81,455.87 L458.52,458.17 L457.99,460.79 L456.83,463.17 L455.88,465.59 L455.61,468.26 L454.07,470.45 L453.14,473.42 L451.4,476 L448.87,477.57 L446.74,479.63 L443.2,481.5 L440.44,481.87 L437.69,482.35 L434.97,483.4 L432.17,484.21 L428.5,487 L425.91,488.42 L422.97,488.82 L420.26,488.33 L417.45,488.16 L414.89,487.49 L412.8,485.65 L410.18,485.26 L407.33,483.53 L404.76,481.41 L402.21,479.3 L399.13,478 L397.3,475.5 L395.6,474 L397.81,471.3 L397.18,468.55 L397.55,465.81 L397.44,462.97 L398.46,460.51 L401.97,459.3 L401.9,456.33 L402.8,453.5Z" fill="#78b0fa" stroke="#6c90c4" stroke-width="0.8"/>
<path d="M365.4,483.2 L368.98,483.06 L371.72,482.57 L374.56,482.45 L376.91,481.22 L379.57,480.79 L382.01,479.79 L384.47,478.98 L386.76,477.69 L389.27,476.96 L392.21,474.96 L395.6,474 L397.3,475.5 L395.98,477.94 L394.83,480.47 L393.12,482.57 L391.83,484.9 L390.46,487.68 L389.48,490.64 L387.55,494.28 L384.67,496.98 L381.47,495.93 L378.21,495.9 L375.44,497.37 L372.65,498.7 L369,498.8 L368.1,497.9 L367.2,493.3 L364.4,488.7 L365.4,483.2Z" fill="#78b0fa" stroke="#6c90c4" stroke-width="0.8"/>
<path d="M369,498.8 L368.15,501.12 L367.04,503.34 L368.69,506.08 L370.13,508.79 L371.36,507.1 L372.84,505.3 L373.52,502.87 L374.33,500.53 L376.5,501.81 L378.32,503.24 L379.75,505.22 L380.89,507.38 L382.53,509.13 L384.88,511.35 L387.93,512.62 L389.53,515.03 L391.14,517.36 L393.28,519.23 L395.23,520.93 L397.17,522.67 L398.98,524.52 L400.79,526.89 L403.38,528.16 L405.88,529.59 L408.27,531.25 L410.66,532.9 L413.59,533.7 L416.18,534.98 L418.52,536.67 L420.66,538.67 L423.1,540.18 L425.33,542.05 L428.11,543.02 L430.19,544.31 L431.81,546.1 L433.67,547.6 L437.2,549.6 L433,545 L431.04,543.16 L429.28,541.1 L427.07,539.54 L425.27,537.54 L422.95,536.27 L420.64,534.99 L418.4,532.89 L415.89,531.15 L413.52,529.26 L411.11,527.71 L409.4,525.34 L406.96,523.84 L404.6,521.93 L403.01,519.26 L400.43,517.55 L398.37,515.29 L397.06,512.46 L394.9,510.24 L393.76,506.95 L392.3,503.8 L395.56,503.04 L398.79,502.21 L401.81,502.08 L404.79,500.86 L407.89,500.95 L410.9,501.6 L413.99,501.41 L416.99,501.99 L420.05,502.35 L423.18,502.02 L426.22,502.55 L428.65,502.26 L430.95,501.12 L433.5,501 L431.3,499.9 L429.4,492.5 L428.5,487 L425.91,488.42 L422.97,488.82 L420.26,488.33 L417.45,488.16 L414.89,487.49 L412.8,485.65 L410.18,485.26 L407.33,483.53 L404.76,481.41 L402.21,479.3 L399.13,478 L397.3,475.5 L395.98,477.94 L394.83,480.47 L393.12,482.57 L391.83,484.9 L390.46,487.68 L389.48,490.64 L387.55,494.28 L384.67,496.98 L381.47,495.93 L378.21,495.9 L375.44,497.37 L372.65,498.7 L369,498.8Z" fill="#0030f0" stroke="#1a36cc" stroke-width="0.8"/>
<path d="M392.3,503.8 L395.56,503.04 L398.79,502.21 L401.81,502.08 L404.79,500.86 L407.89,500.95 L410.9,501.6 L413.99,501.41 L416.99,501.99 L420.05,502.35 L423.18,502.02 L426.22,502.55 L428.65,502.26 L430.95,501.12 L433.5,501 L431.3,499.9 L429.4,492.5 L428.5,487 L432.17,484.21 L434.97,483.4 L437.69,482.35 L440.44,481.87 L443.2,481.5 L444.75,483.62 L446.63,485.4 L448.51,487.19 L451.42,489.4 L453.54,492.3 L455.75,495.12 L457.75,498.12 L460.54,500.02 L463.24,501.93 L466.22,501.69 L468.9,500.78 L472.5,503.51 L473.76,506.38 L474.2,509.5 L473.93,512.59 L474.13,515.71 L474.86,518.67 L476.74,521.18 L478.1,523.93 L479.33,526.74 L477.82,529.34 L476.52,532.11 L476.57,535.43 L477.2,538.6 L479.23,540.05 L481.04,541.78 L482.91,543.44 L484.91,545.73 L485.69,548.75 L484.83,551.83 L484.9,555.1 L482.23,556.94 L479.71,559.13 L476.84,560.88 L474.09,561.54 L471.83,563.2 L469.33,564.6 L466.9,564.91 L464.46,564.99 L462,565 L462.74,568.01 L462.68,571.13 L461.86,574.02 L460.78,576.84 L458.7,579.37 L457.53,582.37 L457.03,585.06 L455.5,587.3 L452.59,586.48 L450.75,584.9 L450.09,582.33 L448.26,580.76 L447.01,578.42 L444.86,576.73 L443.7,574.39 L443.01,571.97 L443.11,569.45 L442.56,567.02 L442.23,564.59 L442.21,562.12 L441.88,559.68 L441.82,556.8 L440.33,554.23 L440,551.4 L437.2,549.6 L433,545 L431.04,543.16 L429.28,541.1 L427.07,539.54 L425.27,537.54 L422.95,536.27 L420.64,534.99 L418.4,532.89 L415.89,531.15 L413.52,529.26 L411.11,527.71 L409.4,525.34 L406.96,523.84 L404.6,521.93 L403.01,519.26 L400.43,517.55 L398.37,515.29 L397.06,512.46 L394.9,510.24 L393.76,506.95 L392.3,503.8Z" fill="#ebe6e2" stroke="#848f96" stroke-width="0.8"/>
<path d="M296,526 L299.37,524.63 L301.09,523.14 L302.5,521.24 L304.75,520.35 L306.84,518.81 L309.26,518.05 L311.73,517.4 L314.07,518.44 L316.61,518.25 L318.9,519.01 L320.93,520.42 L322.6,522.01 L324.1,523.8 L325.36,526.77 L327.88,528.91 L328.31,531.25 L329.02,533.4 L330.38,535.26 L331.87,537.6 L333.78,539.69 L334.73,542.38 L336.31,544.57 L337.99,546.68 L340.29,548.25 L340.99,550.66 L342.7,552.29 L344.55,553.81 L345.69,555.86 L347.81,557.37 L349.36,559.49 L351.33,561.2 L353.04,563.16 L355.15,565.1 L358.08,565.83 L360.27,567.79 L362.39,569.48 L364.9,570.19 L367.56,570.53 L370.1,570.63 L372.27,572.29 L374.74,572.75 L377.23,573.81 L379.57,575.3 L382.21,576.18 L383.78,578.28 L385.9,579.83 L387.95,581.45 L389.26,584.07 L391.88,585.52 L393.25,588.06 L395.31,589.3 L397.17,590.8 L398.61,592.8 L399.92,594.8 L401.92,596.24 L403.4,598.12 L403.14,600.85 L404.45,603.34 L404.2,606 L417,606 L416.11,603.66 L417.17,601.14 L415.65,598.86 L415.95,596.41 L414.58,593.83 L412.61,591.63 L411.43,589.77 L411.18,587.54 L410.2,585.51 L412.04,582.67 L413.38,579.89 L415.89,579.52 L417.94,578.1 L420.82,579.06 L423.27,581.06 L426.05,582.75 L428.1,585.3 L431.62,586.65 L431.73,582.6 L429.56,580.55 L427.18,578.8 L424.95,577.73 L422.79,576.58 L420.76,575.19 L417.98,574.64 L415.61,573.27 L413.43,571.54 L411.03,570.6 L408.7,569.5 L406.51,568.12 L404.35,566.69 L402.02,565.88 L400.02,564.45 L397.87,563.28 L400.74,560.83 L399.84,556.84 L396.41,557.48 L393.23,558.06 L390.75,556.91 L388.24,556.11 L385.91,554.8 L383.54,553.41 L381.86,551.05 L379.46,549.53 L377.75,547.31 L375.26,545.74 L373.66,543.41 L372.76,540.49 L370.32,538.59 L369.12,535.91 L368.62,533.37 L366.52,531.75 L365.64,529.43 L363.47,527.6 L361.79,525.35 L360.43,522.8 L359.22,520.88 L357.06,519.65 L356.05,517.54 L354.97,515.5 L354.13,513.1 L352.41,510.93 L351.81,508.34 L351.73,505.26 L350.64,502.41 L351.3,500.03 L352.46,497.88 L355.04,496.89 L356.99,494.92 L359.35,496.12 L361.59,497.18 L363.7,498.8 L366.16,499.93 L368.1,497.9 L367.2,493.3 L364.4,488.7 L365.4,483.2 L361.81,482.09 L358.93,480.95 L356.34,479.29 L353.25,477.94 L350.75,475.7 L347.01,474.09 L344.63,474.8 L342.19,475.02 L339.73,475.15 L337.24,474.95 L334.87,475.81 L332.43,475.85 L328.7,478.6 L326.92,480.52 L325.04,482.34 L322.54,482.79 L320.3,483.86 L316.86,486.01 L315.48,489.04 L314.61,492.32 L313.36,490.29 L311.08,488.92 L309.33,486.44 L306.6,485.12 L303.76,487.66 L302.36,489.86 L300.26,491.36 L298.04,492.45 L295.65,493.18 L292.76,492.9 L289.8,493.1 L289.94,496.37 L288.87,499.48 L287.56,502.23 L285.97,504.88 L287.43,508.23 L289.41,511.05 L288.73,513.7 L288.47,516.49 L290.23,518.77 L291.8,521.16 L293.78,523.68 L296,526Z" fill="#0030f0" stroke="#1a36cc" stroke-width="0.8"/>
<path d="M316.2,571.5 L319.7,574.1 L321.5,581.2 L320.6,590 L319.7,606 L305.6,606 L305.6,591.8 L304.7,584.7 L302.1,580.3 L302.9,575.9 L308.2,575.9 L311.8,573.2Z" fill="#0030f0" stroke="#1a36cc" stroke-width="0.8"/>
<path d="M184.5,524.8 L182.33,523.7 L180.05,522.88 L177.41,523.04 L175.02,522.28 L172.79,520.82 L170.31,521.15 L168.15,519.99 L165.78,519.86 L163.58,518.92 L161.28,518.59 L158.9,518.63 L156.58,518.43 L154.37,517.65 L152.2,516.56 L149.93,515.92 L147.57,515.79 L145.15,515.98 L143.01,514.49 L140.47,514.17 L138.46,512.54 L135.93,512.18 L133.62,511.96 L131.31,511.54 L129.21,510.08 L126.76,510.42 L124.37,510 L122.1,509.28 L119.9,508.36 L117.69,507.44 L114.71,505.96 L112.26,503.7 L109.65,504.05 L107.5,505.34 L105.03,505.79 L102.63,506.96 L99.99,506.75 L97.49,507.32 L95.47,509.58 L92.72,510.87 L93.94,513.11 L93.85,515.46 L94.64,517.55 L94.06,520.66 L93.46,523.85 L94.69,526.12 L94.8,528.5 L97.99,529.92 L101.32,531.02 L103.52,532.49 L106.19,532.77 L108.45,534.12 L111.62,533.75 L114.66,534.35 L117.7,534.94 L120.36,536.48 L123.08,537.94 L123.75,540.43 L124.25,543.18 L121.9,545.18 L119.4,546.78 L116.99,548.43 L115.03,550.66 L114.35,552.94 L114.45,555.45 L114.18,557.92 L112.41,560.53 L111.45,563.47 L109.86,566.13 L108.64,568.97 L106.86,571.79 L104.98,574.52 L104.12,576.79 L103.87,579.23 L103.73,581.68 L103.42,584.11 L103.24,586.56 L102.98,589 L101.52,591.68 L100.34,594.52 L99.77,597.39 L98.53,600.05 L98.39,603.01 L98,606 L193,606 L193.04,603 L193.29,599.99 L192.35,596.81 L192.31,593.56 L192.5,591.3 L193.34,589.14 L194.58,587.15 L196.06,584.89 L198.31,583.48 L200.14,581.64 L202.11,579.94 L204.26,578.43 L205.48,575.98 L206.61,574.15 L208.17,572.53 L209.49,570.76 L211,569.12 L213.08,568.26 L214.77,566.8 L217.35,565.5 L219.88,564.17 L222.26,563.25 L224.73,562.66 L227.17,562 L229.59,560.91 L232.02,559.89 L233.91,557.83 L235.93,555.99 L238.5,554.69 L239.14,551.58 L240.5,548.7 L237.1,546.14 L233.9,545.61 L230.63,546.37 L228.22,545.71 L225.74,545.26 L223.51,544.13 L221.12,542.4 L218.4,541.24 L215.05,540.14 L212.01,538.23 L208.45,538.17 L204.95,537.43 L202.45,536.04 L199.84,534.93 L196.93,534.63 L194.91,532.74 L192.32,531.86 L190.11,530.39 L188.49,528.29 L186.12,526.91 L184.5,524.8Z" fill="#0030f0" stroke="#1a36cc" stroke-width="0.8"/>
<path d="M94.8,528.5 L94.74,530.89 L94.38,533.21 L94.06,535.54 L92.79,537.68 L92.58,540.1 L91.94,542.42 L90.81,544.58 L90.24,546.91 L89.1,549.1 L88.77,551.62 L87.93,553.93 L86.7,556.08 L85.94,558.6 L84.53,560.76 L83.36,563.05 L82.12,565.31 L80.53,567.17 L78.49,568.58 L77.29,570.69 L76.31,573.1 L75.87,575.7 L74.73,578.05 L76.99,579.73 L78.96,582 L79.32,584.16 L80.29,586.51 L80.47,588.95 L80.05,591.43 L79.68,593.85 L79.67,596.28 L78.94,598.68 L79.4,601.14 L79.97,603.61 L79.2,606 L98,606 L98.39,603.01 L98.53,600.05 L99.77,597.39 L100.34,594.52 L101.52,591.68 L102.98,589 L103.24,586.56 L103.42,584.11 L103.73,581.68 L103.87,579.23 L104.12,576.79 L104.98,574.52 L106.86,571.79 L108.64,568.97 L109.86,566.13 L111.45,563.47 L112.41,560.53 L114.18,557.92 L114.45,555.45 L114.35,552.94 L115.03,550.66 L116.99,548.43 L119.4,546.78 L121.9,545.18 L124.25,543.18 L123.75,540.43 L123.08,537.94 L120.36,536.48 L117.7,534.94 L114.66,534.35 L111.62,533.75 L108.45,534.12 L106.19,532.77 L103.52,532.49 L101.32,531.02 L97.99,529.92 L94.8,528.5Z" fill="#0030f0" stroke="#1a36cc" stroke-width="0.8"/>
<path d="M227.9,591.8 L232.4,589.1 L237.6,590.9 L239.4,593.5 L236.8,596.2 L232.4,597.1 L228.8,594.4Z" fill="#0030f0" stroke="#1a36cc" stroke-width="0.8"/>
<path d="M245.6,586.5 L250,587 L251.8,589.1 L248.2,589.6Z" fill="#0030f0" stroke="#1a36cc" stroke-width="0.8"/>
<path d="M467,444.8 L469.48,444.59 L471.96,444.4 L474.4,443.89 L476.83,443.58 L479.25,443.13 L481.73,443.22 L484.49,443.34 L487.26,443.77 L489.95,444.59 L492.1,443.66 L494.43,442.75 L496.41,441.22 L498.82,438.51 L501.79,436.47 L504.37,433.96 L507.32,431.91 L510.1,431.1 L511.27,433.49 L512.85,435.59 L514.94,437.33 L516.76,439.44 L518.58,441.58 L520.08,444 L521.8,446.6 L523.33,449.34 L524.85,452.09 L526.25,454.71 L527.33,457.5 L529.24,459.88 L529.89,462.71 L530.53,465.51 L531.92,468.03 L533.88,470.81 L535,474 L540,475 L547,473 L553,474 L552.28,476.14 L551.47,478.23 L549.95,479.98 L549.07,482.04 L547.42,483.71 L546.64,485.82 L546.06,488.59 L546.4,491.34 L545.78,493.97 L545.5,496.61 L545.57,499.28 L545.2,501.9 L542.57,501.76 L539.96,502.48 L536.45,501.79 L532.95,501.09 L529.59,499.64 L525.99,499.46 L523.64,500.54 L520.95,500.21 L518.43,501.08 L516.09,503.79 L513.14,505.78 L510.53,506.66 L508.24,508.17 L505.74,509.39 L502.65,509.71 L499.73,510.91 L496.57,510.7 L493.55,511.17 L490.58,512.1 L487.5,512.04 L484.46,511.76 L481.52,512.77 L478.45,512.77 L476.59,510.78 L474.2,509.5 L473.76,506.38 L472.5,503.51 L468.9,500.78 L466.22,501.69 L463.24,501.93 L460.54,500.02 L457.75,498.12 L455.75,495.12 L453.54,492.3 L451.42,489.4 L448.51,487.19 L446.63,485.4 L444.75,483.62 L443.2,481.5 L446.74,479.63 L448.87,477.57 L451.4,476 L453.14,473.42 L454.07,470.45 L455.61,468.26 L455.88,465.59 L456.83,463.17 L457.99,460.79 L458.52,458.17 L459.81,455.87 L461.27,452.86 L463.55,450.4 L464.83,447.31 L467,444.8Z" fill="#78b0fa" stroke="#6c90c4" stroke-width="0.8"/>
<path d="M474.2,509.5 L476.59,510.78 L478.45,512.77 L481.52,512.77 L484.46,511.76 L487.5,512.04 L490.58,512.1 L493.55,511.17 L496.57,510.7 L499.73,510.91 L502.65,509.71 L505.74,509.39 L508.24,508.17 L510.53,506.66 L513.14,505.78 L516.09,503.79 L518.43,501.08 L520.95,500.21 L523.64,500.54 L525.99,499.46 L529.59,499.64 L532.95,501.09 L536.45,501.79 L539.96,502.48 L542.57,501.76 L545.2,501.9 L544.33,505.04 L544.24,508.27 L543.25,511.1 L542.13,513.96 L541.5,516.27 L539.93,518.43 L540.28,521.07 L541.75,523.66 L542.67,526.72 L543.19,529.58 L544.5,532.2 L541.68,532.21 L538.96,532.88 L536.25,533.53 L533.41,533.91 L531.45,535.61 L530.16,537.68 L530.46,540.22 L530.3,542.8 L527.53,544.39 L524.4,544.98 L521.91,545.53 L519.37,545.9 L516.99,546.83 L514.52,546.8 L512.09,547.16 L509.7,548 L507.27,547.32 L504.83,547.69 L502.42,547.85 L500.05,549.01 L497.3,549.14 L494.9,550.28 L491.69,551.65 L488.48,553.05 L484.9,555.1 L484.83,551.83 L485.69,548.75 L484.91,545.73 L482.91,543.44 L481.04,541.78 L479.23,540.05 L477.2,538.6 L476.57,535.43 L476.52,532.11 L477.82,529.34 L479.33,526.74 L478.1,523.93 L476.74,521.18 L474.86,518.67 L474.13,515.71 L473.93,512.59 L474.2,509.5Z" fill="#0030f0" stroke="#1a36cc" stroke-width="0.8"/>
<path d="M455.5,587.3 L457.03,585.06 L457.53,582.37 L458.7,579.37 L460.78,576.84 L461.86,574.02 L462.68,571.13 L462.74,568.01 L462,565 L464.46,564.99 L466.9,564.91 L469.33,564.6 L471.83,563.2 L474.09,561.54 L476.84,560.88 L479.71,559.13 L482.23,556.94 L484.9,555.1 L488.48,553.05 L491.69,551.65 L494.9,550.28 L497.3,549.14 L500.05,549.01 L502.42,547.85 L504.83,547.69 L507.27,547.32 L509.7,548 L512.09,547.16 L514.52,546.8 L516.99,546.83 L519.37,545.9 L521.91,545.53 L524.4,544.98 L527.53,544.39 L530.3,542.8 L530.2,548.5 L528.2,554.1 L526.1,555.5 L521.89,554.85 L519.07,554.27 L516.19,554.15 L513.43,554.7 L510.61,554.87 L508.76,556.36 L506.4,556.89 L504.03,558.02 L502.17,559.9 L499.42,562.53 L500.17,564.83 L501.02,566.99 L500.74,569.39 L499.62,571.5 L497.3,569 L495.55,568.11 L495.05,569.99 L495.1,572.28 L493.05,570.91 L491.13,568.62 L489.2,571.95 L487.51,569.79 L486.16,567.21 L484.21,570.24 L484.39,572.92 L485.48,575.26 L486.37,577.7 L487.62,580.06 L488.63,582.05 L490.02,583.86 L492.91,586.59 L491.59,589.05 L494.43,591.47 L497.02,592.16 L499.15,593.95 L501.32,594.85 L503.34,596.1 L505.7,596.34 L507.83,597.12 L508.77,599.29 L509.09,601.54 L509.91,603.67 L509.9,606 L464.7,606 L464.29,603.32 L464.09,600.61 L463.93,597.96 L462.56,596.18 L461.04,594.59 L458.67,593.05 L457.15,590.7 L455.5,587.3Z" fill="#0030f0" stroke="#1a36cc" stroke-width="0.8"/>
<path d="M511,561.2 L510.7,562.1 L509.8,562.7 L508.6,562.7 L507.7,562.1 L507.4,561.2 L507.7,560.3 L508.6,559.7 L509.8,559.7 L510.7,560.3Z" fill="#0030f0" stroke="none" stroke-width="0"/>
<path d="M522.7,562.6 L522.4,563.2 L521.7,563.6 L520.7,563.6 L520,563.2 L519.7,562.6 L520,562 L520.7,561.6 L521.7,561.6 L522.4,562Z" fill="#0030f0" stroke="none" stroke-width="0"/>
<path d="M519.8,572.5 L519.4,573.6 L518.3,574.2 L516.9,574.2 L515.8,573.6 L515.4,572.5 L515.8,571.4 L516.9,570.8 L518.3,570.8 L519.4,571.4Z" fill="#0030f0" stroke="none" stroke-width="0"/>
<path d="M535.7,581.6 L535.1,582.9 L533.5,583.7 L531.5,583.7 L529.9,582.9 L529.3,581.6 L529.9,580.3 L531.5,579.5 L533.5,579.5 L535.1,580.3Z" fill="#0030f0" stroke="none" stroke-width="0"/>
<path d="M534.5,594.6 L534.2,596.4 L533.3,597.5 L532.3,597.5 L531.4,596.4 L531.1,594.6 L531.4,592.8 L532.3,591.7 L533.3,591.7 L534.2,592.8Z" fill="#0030f0" stroke="none" stroke-width="0"/>
<path d="M514.1,590.8 L513.8,591.9 L513.1,592.5 L512.3,592.5 L511.6,591.9 L511.3,590.8 L511.6,589.7 L512.3,589.1 L513.1,589.1 L513.8,589.7Z" fill="#0030f0" stroke="none" stroke-width="0"/>
<path d="M498.5,574.2 L498.3,574.8 L497.6,575.2 L496.8,575.2 L496.1,574.8 L495.9,574.2 L496.1,573.6 L496.8,573.2 L497.6,573.2 L498.3,573.6Z" fill="#0030f0" stroke="none" stroke-width="0"/>
<path d="M502.6,573.4 L502.4,573.9 L501.8,574.3 L501,574.3 L500.4,573.9 L500.2,573.4 L500.4,572.9 L501,572.5 L501.8,572.5 L502.4,572.9Z" fill="#0030f0" stroke="none" stroke-width="0"/>
<path d="M453.2,588.5 L453,590.4 L452.4,591.5 L451.6,591.5 L451,590.4 L450.8,588.5 L451,586.6 L451.6,585.5 L452.4,585.5 L453,586.6Z" fill="#0030f0" stroke="none" stroke-width="0"/>
<path d="M527,566.1 L526.7,566.7 L525.9,567.1 L524.9,567.1 L524.1,566.7 L523.8,566.1 L524.1,565.5 L524.9,565.1 L525.9,565.1 L526.7,565.5Z" fill="#e6e6e6" stroke="none" stroke-width="0"/>
<path d="M408,532.7 L407.3,533.1 L405.8,533.2 L404,532.9 L402.5,532.4 L402,531.9 L402.7,531.5 L404.2,531.4 L406,531.7 L407.5,532.2Z" fill="#0030f0" stroke="none" stroke-width="0"/>
<path d="M413.5,536 L412.7,536.4 L410.7,536.5 L408.2,536.2 L406.2,535.7 L405.5,535.2 L406.3,534.8 L408.3,534.7 L410.8,535 L412.8,535.5Z" fill="#0030f0" stroke="none" stroke-width="0"/>
<path d="M417.5,539.3 L416.7,539.7 L415,539.7 L412.8,539.4 L411.1,538.8 L410.5,538.3 L411.3,537.9 L413,537.9 L415.2,538.2 L416.9,538.8Z" fill="#0030f0" stroke="none" stroke-width="0"/>
<path d="M377.2,507.7 L376.7,509.4 L376,510.4 L375.5,510.2 L375.2,509.1 L375.4,507.3 L375.9,505.6 L376.6,504.6 L377.1,504.8 L377.4,505.9Z" fill="#0030f0" stroke="none" stroke-width="0"/>
<path d="M380.7,505.3 L380.4,506.1 L379.7,506.6 L378.9,506.6 L378.2,506.1 L377.9,505.3 L378.2,504.5 L378.9,504 L379.7,504 L380.4,504.5Z" fill="#0030f0" stroke="none" stroke-width="0"/>
<path d="M386.2,515 L387.2,516.9 L387.6,518.2 L387.2,518.5 L386.2,517.6 L384.8,516 L383.8,514.1 L383.4,512.8 L383.8,512.5 L384.8,513.4Z" fill="#0030f0" stroke="none" stroke-width="0"/>
<path d="M390.5,522 L391.7,523.7 L392.2,524.8 L391.9,525.1 L390.9,524.4 L389.5,523 L388.3,521.3 L387.8,520.2 L388.1,519.9 L389.1,520.6Z" fill="#0030f0" stroke="none" stroke-width="0"/>
<path d="M398.7,528.7 L398.1,528.8 L396.9,528.5 L395.5,527.7 L394.5,526.9 L394.3,526.3 L394.9,526.2 L396.1,526.5 L397.5,527.3 L398.5,528.1Z" fill="#0030f0" stroke="none" stroke-width="0"/>
<path d="M194.6,269 L197.82,269.59 L201.04,270.21 L203.83,270.88 L206.71,270.99 L209.45,271.86 L212.33,271.58 L210.19,273.46 L208.03,275.07 L206.82,277.62 L204.67,278.72 L203.01,280.44 L201.05,281.77 L199.39,283.72 L198.15,285.96 L200.96,286.66 L203.8,286.7 L206.68,286.32 L209.48,286.97 L212.33,287.03 L214.73,287.88 L217.21,288.19 L219.53,289.06 L219.79,290.25 L218.93,291.97 L217.96,293.98 L217.17,296.09 L215.38,297.81 L214.42,300.06 L212.66,301.77 L211.13,304.13 L208.59,305.59 L207.34,308.34 L204.9,309.37 L202.92,310.9 L204.9,312.21 L207.28,312.44 L208.9,314.2 L209.68,316.43 L211.35,318.21 L212.99,320.01 L213.89,322.61 L214.03,325.41 L215.06,327.98 L215.05,330.48 L216.78,332.41 L217.25,334.75 L217.79,337.07 L218.7,339.69 L220.68,341.66 L221.87,344.08 L222.6,346.82 L223.51,349.52 L224.81,352.07 L225.71,354.77 L227.65,357.09 L228.26,359.9 L228.53,362.31 L229.45,364.56 L228.98,367 L231.35,368.04 L232.97,370.04 L234.82,371.36 L236.78,372.45 L239.12,372.76 L240.65,375.24 L240.57,378.17 L240.35,381.12 L238.89,383.96 L237.47,386.23 L234.56,386.81 L233.08,389.09 L230.83,389.67 L228.94,390.88 L226.89,391.77 L229.75,394.38 L231.88,396.59 L233.94,399.05 L231.98,400.31 L230.13,401.86 L227.87,402.81 L225.32,403.21 L222.72,404.11 L220.01,404.07 L217.46,403.83 L214.94,403.85 L212.5,404.74 L209.96,404.65 L207.34,404.3 L204.65,403.73 L201.89,403.42 L199.41,403.96 L196.65,403.49 L194.01,404.06 L191.19,403.89 L188.49,403.38 L185.96,402.16 L184.08,403.16 L182.14,404.28 L179.79,404.58 L176.94,404.83 L174.07,403.57 L171.18,404.6 L168.67,406 L165.96,406.9 L163.95,406.1 L161.97,405.05 L164.07,403.42 L166.27,401.98 L168.21,400.25 L170.04,397.92 L172.46,396.38 L174.92,394.89 L177.57,394.54 L179.37,392.31 L182.18,392.43 L185.23,391.68 L188.11,390.32 L190.24,388.82 L192.2,387.26 L189.43,385.75 L186.41,385.68 L184,384 L181.84,382.72 L179.19,383.16 L177.04,381.86 L174.63,381.45 L172.27,380.9 L169.9,380.33 L171.75,376.83 L174.55,375.86 L177.24,375.28 L180.03,375.1 L181.54,373.2 L182.83,371.16 L185.04,370.04 L186.2,367.64 L186.04,365.01 L183.78,363.9 L181.43,363.63 L178.94,364.43 L180.65,362.04 L183.18,361.24 L179.97,358.03 L182.13,355.09 L185.03,355.9 L188.13,356.62 L191,356.83 L194,357.32 L196.74,355.89 L198.95,353.92 L199.41,350.98 L199.56,347.93 L199.37,345.35 L197.93,343.03 L196.79,340.33 L194.67,338.2 L196.25,335.08 L196.56,331.85 L194.62,331.99 L192.28,332.29 L190.06,333.44 L187,332.8 L184,333.22 L180.96,330.04 L182.13,327.55 L182.88,324.95 L184.92,323.59 L186.61,321.94 L188.08,320.08 L188.65,317.83 L189.1,314.9 L188.32,311.95 L186.49,309.17 L186.45,305.85 L185.74,303.32 L184.59,300.76 L184.77,298.03 L183.74,294.57 L184.11,291.5 L185.08,288.72 L186.44,286.09 L186.47,283.25 L188.37,281.44 L189.74,278.93 L190.58,276.38 L191.8,274 L192.52,271.12Z" fill="#cddef9" stroke="#848f96" stroke-width="0.8"/>
<path d="M162.7,318.3 L167.3,319.7 L172,321.7 L174.7,326.3 L176,331.7 L174,336.3 L170,339 L164.7,339 L163.3,335.7 L160.7,333.7 L156,335 L152.7,333 L152.7,329 L156.7,326.3 L160.7,322.3 L162.7,318.3Z" fill="#cddef9" stroke="#848f96" stroke-width="0.8"/>
<path d="M143.3,328.3 L146.7,325 L149.3,321 L153.3,317.7 L158.7,317 L162.7,318.3 L160.7,322.3 L156.7,326.3 L152.7,329 L152.7,333 L156,335 L160.7,333.7 L163.3,335.7 L164.7,339 L166,345 L166.7,351.7 L166,358.3 L164,363.7 L161.3,367.7 L155.3,369 L148.7,371 L142,372.3 L135.3,373.7 L128.7,373.7 L123.3,370.3 L118.7,366.3 L120,361 L124.7,358.3 L130,354.3 L133.3,350.3 L131.3,345 L128.7,341 L131.3,337 L132,331.7 L134,328.3 L138.7,327Z" fill="#78b0fa" stroke="#6c90c4" stroke-width="0.8"/>
<path d="M184.7,268.3 L181.9,271.8 L178.3,275.4 L174.8,277.5 L171.2,281 L169.1,285.3 L170.5,286.7 L173.4,282.5 L177.6,278.2 L181.9,274.7 L184.7,270.4Z" fill="#cddef9" stroke="#848f96" stroke-width="0.8"/>
<path d="M178,282.5 L181.5,283.5 L182,288 L179.5,290.2 L177.6,287Z" fill="#cddef9" stroke="#848f96" stroke-width="0.8"/>
<path d="M176.5,298 L180,298 L180.5,302.5 L177,303.5Z" fill="#cddef9" stroke="#848f96" stroke-width="0.8"/>
<path d="M173,309 L178,309.5 L178.5,314 L174,314.5Z" fill="#cddef9" stroke="#848f96" stroke-width="0.8"/>
<path d="M182,308 L184.5,309 L184,316 L182.5,321 L181,320 L181.5,314Z" fill="#cddef9" stroke="#848f96" stroke-width="0.8"/>
<path d="M183.4,338.6 L186.1,339.5 L185.8,342.3 L183.6,341.5Z" fill="#cddef9" stroke="#848f96" stroke-width="0.8"/>
<path d="M210.9,262.6 L214.4,265.5 L213,268.3 L210.2,266.9Z" fill="#cddef9" stroke="#848f96" stroke-width="0.8"/>
<path d="M235,239.2 L236.4,241.4 L233.6,247.7 L230.7,253.4 L229.3,252 L231.4,246.3 L233.6,241.4Z" fill="#cddef9" stroke="#848f96" stroke-width="0.8"/>
<path d="M191.5,205.5 L197,204.5 L196,209 L193.5,213.5 L192.5,217.5 L191.8,212Z" fill="#e6e6e6" stroke="#848f96" stroke-width="0.8"/>
<path d="M222,63.5 L228,61.5 L228.5,63 L223,65Z" fill="#e6e6e6" stroke="#848f96" stroke-width="0.8"/>
<path d="M544.5,532.2 L544.15,529.27 L542.8,526.67 L541.24,523.9 L539.72,521.13 L541.09,518.72 L541.41,516.25 L541.82,513.81 L542.82,510.89 L544.51,508.31 L544.86,505.1 L545.39,501.92 L545.58,499.28 L545.95,496.66 L545.98,494 L546.69,491.38 L546.86,488.69 L546.77,485.97 L548.29,482.89 L550.14,480.07 L551.77,477.14 L552.85,473.93 L552.99,471.29 L554.07,468.72 L553.78,465.97 L555.08,463.44 L555.28,460.65 L555.76,457.94 L556.96,455.65 L557.78,453.24 L559.07,451.03 L561.56,449.07 L563.94,446.92 L566.71,446.5 L569.3,445.55 L571.96,444.84 L574.85,445.51 L577.31,447.06 L580.12,447.68 L582.69,447.88 L585.4,447.89 L587.98,446.81 L591.25,449.75 L588.86,452 L587.97,454.88 L585.85,456.89 L584.09,461.04 L586.98,461.64 L590,461.98 L592.99,463.03 L596.05,463.85 L597.94,466.78 L599.28,469.86 L601.61,470.73 L604.12,471.69 L606.36,470.36 L608.05,468.05 L609.71,465.11 L610.85,461.92 L613.61,460.14 L615.82,457.78 L617.9,456.52 L620.26,455.73 L622.19,454.28 L624.04,452.73 L626.04,451.39 L627.85,449.78 L632.05,448.11 L634.93,449.64 L638.14,450.73 L640.53,452.22 L643.3,452.45 L645.92,453.33 L648.53,454.22 L651.37,454.2 L654.08,454.67 L656.77,455.24 L659.24,456.71 L662.06,456.74 L664.78,457.71 L667.45,458.69 L670.03,459.91 L672.81,460.09 L675.28,461.54 L677.96,462.15 L681.02,462.93 L684.11,463.67 L688.08,464.68 L690.67,465.99 L693.51,466.52 L695.89,468.29 L698.41,469.59 L700.36,471.64 L701.8,474.2 L703.22,476.15 L704.3,478.37 L705.54,480.51 L705.98,483.01 L705.06,485.52 L703.81,487.92 L703.15,490.32 L700.85,491.68 L700,494 L697.78,495 L696.22,496.99 L694.11,498.17 L690.93,499.35 L687.89,500.78 L685.37,501.67 L682.81,502.52 L680.48,503.95 L678,504.99 L675.47,505.65 L672.9,506.18 L670.46,507.1 L668.01,508.05 L665.52,508.42 L663.04,508.9 L660.56,509.3 L658,509.04 L655.32,509.24 L652.62,509.33 L650.02,510.18 L647.34,509.32 L644.63,508.83 L642.05,507.8 L639.35,508.48 L636.7,508.9 L633.98,508.83 L631.21,507.98 L629.14,505.76 L626.67,507.41 L624.12,508.3 L621.43,508.53 L619.04,509.63 L616.42,509.97 L614.07,511.24 L611.34,511.59 L609.16,513.4 L606.34,513.59 L604.13,515.31 L601.89,516.62 L599.8,518.27 L597.97,520.22 L596.16,522.18 L594.15,523.73 L593.46,526.34 L591.37,527.9 L589.73,529.8 L587.48,532.48 L585.07,535.07 L582.04,535.85 L578.9,535.9 L576.04,537.18 L573.56,537.84 L571.05,538.05 L568.51,537.82 L566,538.01 L563.33,538.4 L560.67,537.57 L558,538.18 L555.41,537.05 L552.57,537.07 L549.94,536.26 L547.15,534.25Z" fill="#e5fcff" stroke="#848f96" stroke-width="0.8"/>
<path d="M608,438 L612,432 L618,426 L624,420 L630,416 L636,412 L642,407 L645,406 L644,411 L640,416 L642,422 L644,426 L640,432 L638,440 L634,445 L629,448.5 L622,449 L616,450 L611,447 L607,443Z" fill="#e5fcff" stroke="#848f96" stroke-width="0.8"/>
<path d="M629,447.5 L632.5,447 L632,449.5 L628.5,450Z" fill="#e5fcff" stroke="none" stroke-width="0"/>
<path d="M780,338 L782.61,337.96 L784.98,339.11 L786.54,340.86 L787.98,342.79 L789.18,344.88 L789.78,347.3 L790.82,349.53 L791.17,351.95 L790.79,354.56 L789.72,356.94 L793.52,357.34 L797.04,357.71 L794.84,359.09 L793.13,360.87 L790.81,361.71 L789.29,363.77 L786.76,364.31 L785.17,366.25 L783.18,368.84 L782.02,372.01 L782.33,375.03 L782.73,378.05 L785.36,379.73 L787.9,381.16 L785.3,381.51 L782.88,382.7 L780.57,384.17 L778.08,385.19 L775.96,388.98 L778.87,392.13 L781.85,393.45 L785.06,393.82 L787.85,394.96 L790.1,397.14 L793.03,397.93 L795.79,399.1 L798.43,400.46 L800.95,402.11 L803.68,402.24 L806.36,402.48 L808.97,403.23 L811.83,401.48 L814.94,400.81 L816.01,404.24 L818.31,406.85 L819.29,409.36 L821.12,411.41 L821.91,414.05 L823.15,412.08 L824.21,409.82 L824.3,407.32 L825.16,405.05 L827.12,402.29 L829.15,399.5 L831.73,398.7 L834.49,398.17 L837.29,397.76 L840.02,397.1 L839.44,399.44 L839.46,401.88 L839.48,404.32 L839.58,406.76 L840.01,409.2 L839.71,411.63 L839.46,414.07 L839.68,416.51 L840.55,418.95 L840.38,421.39 L840.56,423.83 L840.3,426.27 L839.69,428.71 L840.26,431.15 L840.45,433.59 L840.03,436.02 L839.59,438.46 L840.51,440.9 L839.63,443.34 L840.52,445.78 L840.11,448.22 L839.62,450.66 L839.82,453.1 L839.5,455.54 L839.85,457.98 L840.3,460.41 L840.41,462.85 L839.79,465.29 L840.28,467.73 L839.42,470.17 L840.13,472.61 L840.57,475.05 L839.49,477.49 L840.15,479.93 L839.71,482.37 L840.55,484.8 L839.91,487.24 L839.54,489.68 L839.93,492.12 L839.99,494.56 L839.91,497 L837.56,496.75 L835.23,497.75 L832.83,498.01 L830.45,498.37 L827.98,497.73 L825.35,497.29 L822.62,496.84 L820.06,495.75 L817.99,494.51 L816.2,492.73 L813.68,491.92 L812.19,489.74 L810.83,487.25 L809.48,484.6 L807.73,482.13 L807.72,479.33 L806.86,476.73 L806.84,474.02 L806.46,471.53 L806.69,468.98 L805.95,466.53 L805.7,464.03 L806.12,461.28 L805.41,458.66 L804.76,456.03 L806.81,454.1 L809.01,452.68 L811.1,451.12 L807.54,450.2 L803.95,450.35 L801.3,449.1 L798.58,448.24 L795.91,447.24 L793.58,445.17 L790.52,444.63 L787.85,443.3 L785.48,441.37 L782.43,440.8 L779.93,439.13 L777.31,438.13 L775.21,436.08 L772.62,435 L770.02,433.96 L767.6,431.91 L764.94,430.22 L761.86,429.22 L760.36,426.98 L758.92,424.79 L757.1,422.91 L755.96,420.77 L755.43,418.4 L754.67,416.1 L752.62,415.11 L750.18,414.36 L747.97,413.08 L745.63,411.39 L743.15,409.92 L741.12,407.83 L741.17,405.46 L740.33,403.02 L740.58,400.47 L739.92,398.01 L739.81,395.46 L741.01,393.05 L740.78,390.5 L741.07,388.01 L743.15,385.63 L744.27,382.63 L745.81,379.88 L746.91,376.97 L747.89,373.96 L749.91,371.21 L750.68,367.84 L751.83,364.94 L753.12,362.04 L754.36,360.02 L755.26,357.73 L756.92,355.95 L758.49,354.11 L759.96,352.2 L760.78,349.85 L762.64,347.9 L765.34,347.07 L766.8,344.76 L769.51,343.97 L771.78,342.54 L773.96,340.93 L776.88,339.25Z" fill="#e5fcff" stroke="#848f96" stroke-width="0.8"/>
<path d="M542,558 L545,553 L550,549 L556,546.5 L562,546.5 L566.5,546 L563,550 L558,553.5 L552,556.5 L546,558.5Z" fill="#e5fcff" stroke="#848f96" stroke-width="0.8"/>
<path d="M646,606 L648,594 L654,591 L662,588 L667,585 L668,590 L670,594 L668,606Z" fill="#e5fcff" stroke="#848f96" stroke-width="0.8"/>
<path d="M327.24,272.73 L331.38,271.26 L334.82,270.04" fill="none" stroke="#858f94" stroke-width="0.7"/>
<path d="M324.67,272.94 L323.27,270.58 L321.89,268.11" fill="none" stroke="#858f94" stroke-width="0.7"/>
<path d="M323.82,274.82 L322.47,274.76 L320.81,274.37" fill="none" stroke="#858f94" stroke-width="0.7"/>
<path d="M322.02,275.53 L323.52,271.29 L324.46,267.61" fill="none" stroke="#858f94" stroke-width="0.7"/>
<path d="M321.65,278.1 L318.53,279.38 L316.77,281" fill="none" stroke="#858f94" stroke-width="0.7"/>
<path d="M319.93,279.23 L317.12,278.63 L314.93,277.51" fill="none" stroke="#858f94" stroke-width="0.7"/>
<path d="M319,281.15 L316.75,279.28 L314.61,277.83" fill="none" stroke="#858f94" stroke-width="0.7"/>
<path d="M316.35,281.35 L319.4,277.77 L321.28,274.46" fill="none" stroke="#858f94" stroke-width="0.7"/>
<path d="M315.23,282.85 L312.55,282.51 L311.14,281.75" fill="none" stroke="#858f94" stroke-width="0.7"/>
<path d="M314.48,284.82 L313.19,283.18 L311.3,281.2" fill="none" stroke="#858f94" stroke-width="0.7"/>
<path d="M313.11,286.07 L309.09,284.75 L305.86,282.79" fill="none" stroke="#858f94" stroke-width="0.7"/>
<path d="M311.6,287.17 L308.63,285.78 L305.69,285.06" fill="none" stroke="#858f94" stroke-width="0.7"/>
<path d="M309.68,288.56 L306.48,285.21 L303.4,283.16" fill="none" stroke="#858f94" stroke-width="0.7"/>
<path d="M307.2,288.85 L306.51,287.3 L305.41,286.62" fill="none" stroke="#858f94" stroke-width="0.7"/>
<path d="M305.46,290.29 L304.3,288.48 L302.94,287.66" fill="none" stroke="#858f94" stroke-width="0.7"/>
<path d="M303.35,290.07 L301.9,287.33 L301.24,285.51" fill="none" stroke="#858f94" stroke-width="0.7"/>
<path d="M299.55,291.01 L300.33,286.74 L301.49,283.44" fill="none" stroke="#858f94" stroke-width="0.7"/>
<path d="M298.72,289.28 L300.86,288.57 L301.73,288.52" fill="none" stroke="#858f94" stroke-width="0.7"/>
<path d="M296.43,289.03 L297.39,286.43 L298.54,285.08" fill="none" stroke="#858f94" stroke-width="0.7"/>
<path d="M294.95,287.64 L296.72,286.11 L297.97,285.09" fill="none" stroke="#858f94" stroke-width="0.7"/>
<path d="M293.47,286.21 L296.48,286.1 L298.8,285.35" fill="none" stroke="#858f94" stroke-width="0.7"/>
<path d="M289.72,284.58 L293.83,284.28 L297.75,283.21" fill="none" stroke="#858f94" stroke-width="0.7"/>
<path d="M287.51,283.99 L288.21,280.99 L289.5,279.37" fill="none" stroke="#858f94" stroke-width="0.7"/>
<path d="M286.88,279.32 L289.42,279.53 L290.92,279.53" fill="none" stroke="#858f94" stroke-width="0.7"/>
<path d="M285.36,277.08 L286.79,273.55 L288.75,271.16" fill="none" stroke="#858f94" stroke-width="0.7"/>
<path d="M286.2,274.61 L288.3,277.52 L290.41,279.14" fill="none" stroke="#858f94" stroke-width="0.7"/>
<path d="M286.37,272.52 L288.19,270.81 L289.78,270.21" fill="none" stroke="#858f94" stroke-width="0.7"/>
<path d="M285.05,270.99 L286.72,268.31 L288.76,266.36" fill="none" stroke="#858f94" stroke-width="0.7"/>
<path d="M283.14,269.69 L286.72,268.73 L289.29,267.78" fill="none" stroke="#858f94" stroke-width="0.7"/>
<path d="M284.23,267.21 L286.03,267.07 L286.76,266.6" fill="none" stroke="#858f94" stroke-width="0.7"/>
<path d="M284.88,263.33 L286.44,265.8 L287.29,268.15" fill="none" stroke="#858f94" stroke-width="0.7"/>
<path d="M284.65,259.04 L288.71,258.22 L291.3,257.13" fill="none" stroke="#858f94" stroke-width="0.7"/>
<path d="M285.36,256.77 L288.53,259.83 L291.4,262" fill="none" stroke="#858f94" stroke-width="0.7"/>
<path d="M282.84,252.69 L286.47,250.49 L288.78,248.55" fill="none" stroke="#858f94" stroke-width="0.7"/>
<path d="M283.45,250.5 L286.84,250.43 L289.41,251.14" fill="none" stroke="#858f94" stroke-width="0.7"/>
<path d="M284.39,248.43 L286.49,252.16 L287.8,255.42" fill="none" stroke="#858f94" stroke-width="0.7"/>
<path d="M284.65,246.32 L287.74,246.57 L289.65,247.52" fill="none" stroke="#858f94" stroke-width="0.7"/>
<path d="M283.68,244.1 L285.27,240.88 L286.61,238.74" fill="none" stroke="#858f94" stroke-width="0.7"/>
<path d="M285,242.07 L288.28,243.67 L290.2,245.42" fill="none" stroke="#858f94" stroke-width="0.7"/>
<path d="M282.63,239.99 L283.88,236.39 L285.44,234.05" fill="none" stroke="#858f94" stroke-width="0.7"/>
<path d="M282.3,235.74 L285.33,233.01 L288.12,230.48" fill="none" stroke="#858f94" stroke-width="0.7"/>
<path d="M283.25,233.52 L287.51,235.12 L290.24,235.74" fill="none" stroke="#858f94" stroke-width="0.7"/>
<path d="M285.21,231.82 L286.21,233.82 L287.69,235.46" fill="none" stroke="#858f94" stroke-width="0.7"/>
<path d="M285.69,228.07 L286.63,229.91 L287.91,231.58" fill="none" stroke="#858f94" stroke-width="0.7"/>
<path d="M285.22,226.1 L287.9,226 L289.48,225.04" fill="none" stroke="#858f94" stroke-width="0.7"/>
<path d="M286.23,224.3 L288.08,223.72 L288.91,224.07" fill="none" stroke="#858f94" stroke-width="0.7"/>
<path d="M286.32,221.58 L288.99,221.41 L290.64,222.15" fill="none" stroke="#858f94" stroke-width="0.7"/>
<path d="M288.71,220.93 L289.51,222.05 L289.57,223.44" fill="none" stroke="#858f94" stroke-width="0.7"/>
<path d="M290.79,220.5 L293.3,222.94 L295.45,224.7" fill="none" stroke="#858f94" stroke-width="0.7"/>
<path d="M291.65,217.95 L295.14,220.76 L297.66,223.61" fill="none" stroke="#858f94" stroke-width="0.7"/>
<path d="M293.82,217.68 L294.56,219.08 L295.21,219.83" fill="none" stroke="#858f94" stroke-width="0.7"/>
<path d="M294.22,215.67 L296.91,215.38 L298.76,215.11" fill="none" stroke="#858f94" stroke-width="0.7"/>
<path d="M297.22,215.42 L296.78,218.4 L295.9,220.1" fill="none" stroke="#858f94" stroke-width="0.7"/>
<path d="M298.6,213.95 L299.02,217.58 L300.03,220.63" fill="none" stroke="#858f94" stroke-width="0.7"/>
<path d="M299.82,212.36 L300.77,215.21 L301.42,216.84" fill="none" stroke="#858f94" stroke-width="0.7"/>
<path d="M300.36,210.27 L302.37,212.2 L303.75,214.32" fill="none" stroke="#858f94" stroke-width="0.7"/>
<path d="M301.72,209.19 L302.72,212.31 L303.14,215.38" fill="none" stroke="#858f94" stroke-width="0.7"/>
<path d="M302.5,206.89 L305.02,211.05 L307.02,213.93" fill="none" stroke="#858f94" stroke-width="0.7"/>
<path d="M304.77,206.95 L302.25,210 L300.46,213.25" fill="none" stroke="#858f94" stroke-width="0.7"/>
<path d="M306.81,206.66 L307.07,210.09 L307.31,213.75" fill="none" stroke="#858f94" stroke-width="0.7"/>
<path d="M308.24,205.39 L311.82,206.16 L315.34,207.08" fill="none" stroke="#858f94" stroke-width="0.7"/>
<path d="M308.71,202.82 L310.5,202.45 L311.93,201.75" fill="none" stroke="#858f94" stroke-width="0.7"/>
<path d="M310.18,201.77 L311.74,206.43 L313.02,209.43" fill="none" stroke="#858f94" stroke-width="0.7"/>
<path d="M311.81,200.97 L313.93,203.26 L316.05,204.72" fill="none" stroke="#858f94" stroke-width="0.7"/>
<path d="M314.42,201.64 L313.32,205.45 L312.31,208.9" fill="none" stroke="#858f94" stroke-width="0.7"/>
<path d="M315.33,199.14 L317.96,202.71 L320.65,204.99" fill="none" stroke="#858f94" stroke-width="0.7"/>
<path d="M319.37,198.53 L319.79,200.53 L320.07,202.17" fill="none" stroke="#858f94" stroke-width="0.7"/>
<path d="M321.67,198.85 L323.97,202.71 L325.82,206.06" fill="none" stroke="#858f94" stroke-width="0.7"/>
<path d="M322.73,196.4 L325.55,197.39 L327.52,198.99" fill="none" stroke="#858f94" stroke-width="0.7"/>
<path d="M323.37,194.85 L328.16,195.83 L331.31,197.06" fill="none" stroke="#858f94" stroke-width="0.7"/>
<path d="M325.71,193.8 L328.3,195.85 L329.84,196.79" fill="none" stroke="#858f94" stroke-width="0.7"/>
<path d="M324.91,191 L326.76,190.4 L328.05,189.14" fill="none" stroke="#858f94" stroke-width="0.7"/>
<path d="M326.12,189.31 L326.58,190.27 L327.52,191.55" fill="none" stroke="#858f94" stroke-width="0.7"/>
<path d="M327.25,187.58 L329.78,188.01 L331.63,189.08" fill="none" stroke="#858f94" stroke-width="0.7"/>
<path d="M329.9,186.63 L331.99,188.3 L334.16,190.21" fill="none" stroke="#858f94" stroke-width="0.7"/>
<path d="M328.44,184.15 L330.48,182.66 L332.31,181.39" fill="none" stroke="#858f94" stroke-width="0.7"/>
<path d="M329.8,182.6 L333.24,183.67 L335.8,184.5" fill="none" stroke="#858f94" stroke-width="0.7"/>
<path d="M330.06,180.69 L333.82,182.14 L337.38,182.89" fill="none" stroke="#858f94" stroke-width="0.7"/>
<path d="M331.82,179.27 L331.91,182.09 L332.32,183.64" fill="none" stroke="#858f94" stroke-width="0.7"/>
<path d="M333.12,177.78 L333.42,181.77 L334.33,185.51" fill="none" stroke="#858f94" stroke-width="0.7"/>
<path d="M334.55,175.88 L336.5,176.32 L337.49,176.82" fill="none" stroke="#858f94" stroke-width="0.7"/>
<path d="M335.99,173.99 L338.86,173.85 L340.87,174.62" fill="none" stroke="#858f94" stroke-width="0.7"/>
<path d="M336.38,171.69 L340.84,173.11 L343.64,174.96" fill="none" stroke="#858f94" stroke-width="0.7"/>
<path d="M338.91,170.46 L339.37,173.17 L339.41,175.95" fill="none" stroke="#858f94" stroke-width="0.7"/>
<path d="M340.2,166.1 L341.61,167.45 L343.31,167.93" fill="none" stroke="#858f94" stroke-width="0.7"/>
<path d="M341.67,160.56 L346.15,160.76 L349.88,160.43" fill="none" stroke="#858f94" stroke-width="0.7"/>
<path d="M341.52,158.51 L344.5,158.24 L347.07,157.84" fill="none" stroke="#858f94" stroke-width="0.7"/>
<path d="M343.16,157.05 L344.64,160.76 L346.42,163.88" fill="none" stroke="#858f94" stroke-width="0.7"/>
<path d="M342.62,154.68 L344.18,153.99 L346.06,153.4" fill="none" stroke="#858f94" stroke-width="0.7"/>
<path d="M343.28,152.81 L346.02,156.29 L347.88,158.49" fill="none" stroke="#858f94" stroke-width="0.7"/>
<path d="M344.42,151.16 L347.41,153.16 L349.85,153.93" fill="none" stroke="#858f94" stroke-width="0.7"/>
<path d="M345.08,149.3 L349.71,149.59 L353.05,149.32" fill="none" stroke="#858f94" stroke-width="0.7"/>
<path d="M347.62,148.28 L350.13,152.25 L351.49,155.14" fill="none" stroke="#858f94" stroke-width="0.7"/>
<path d="M348.03,146.01 L350.57,147 L352.24,148.59" fill="none" stroke="#858f94" stroke-width="0.7"/>
<path d="M349.48,144.24 L350.46,145.22 L351.53,145.78" fill="none" stroke="#858f94" stroke-width="0.7"/>
<path d="M350.75,142.37 L355.3,143.19 L358.72,144.16" fill="none" stroke="#858f94" stroke-width="0.7"/>
<path d="M350.46,139.73 L353.48,140.19 L356.16,139.66" fill="none" stroke="#858f94" stroke-width="0.7"/>
<path d="M353.21,138.61 L354.1,142 L353.95,145.64" fill="none" stroke="#858f94" stroke-width="0.7"/>
<path d="M352.69,135.84 L354.79,135.72 L356.69,136.44" fill="none" stroke="#858f94" stroke-width="0.7"/>
<path d="M353.89,133.95 L355.21,135 L356.75,135.13" fill="none" stroke="#858f94" stroke-width="0.7"/>
<path d="M354.98,131.99 L359.01,134.75 L362.19,136.1" fill="none" stroke="#858f94" stroke-width="0.7"/>
<path d="M352.39,131.93 L353.2,130.73 L353.69,129.28" fill="none" stroke="#858f94" stroke-width="0.7"/>
<path d="M349.91,132.53 L350.56,130.42 L351.14,129.3" fill="none" stroke="#858f94" stroke-width="0.7"/>
<path d="M347.79,132.8 L348.28,131.15 L347.87,129.95" fill="none" stroke="#858f94" stroke-width="0.7"/>
<path d="M346.99,130.14 L349.33,129.9 L351.63,129.41" fill="none" stroke="#858f94" stroke-width="0.7"/>
<path d="M346.41,126.15 L347.4,129.22 L348.26,130.88" fill="none" stroke="#858f94" stroke-width="0.7"/>
<path d="M347.62,124.37 L351.45,126.97 L354.19,129.15" fill="none" stroke="#858f94" stroke-width="0.7"/>
<path d="M350.26,121.32 L350.47,123.03 L350.42,124.51" fill="none" stroke="#858f94" stroke-width="0.7"/>
<path d="M351.29,119.55 L354.02,119.18 L356.93,118.98" fill="none" stroke="#858f94" stroke-width="0.7"/>
<path d="M353.05,118.44 L354.44,120.18 L355.43,121.74" fill="none" stroke="#858f94" stroke-width="0.7"/>
<path d="M353.9,116.51 L358.54,118.81 L361.51,120.26" fill="none" stroke="#858f94" stroke-width="0.7"/>
<path d="M355.79,115.5 L359.78,117.84 L362.53,119.54" fill="none" stroke="#858f94" stroke-width="0.7"/>
<path d="M355.97,112.97 L359.56,112.17 L362.38,111.34" fill="none" stroke="#858f94" stroke-width="0.7"/>
<path d="M357.8,111.85 L357.94,114.29 L358.5,115.42" fill="none" stroke="#858f94" stroke-width="0.7"/>
<path d="M359.66,108.24 L360.9,107.6 L362.33,107.21" fill="none" stroke="#858f94" stroke-width="0.7"/>
<path d="M360.81,106.61 L363.54,106.38 L366.55,106.94" fill="none" stroke="#858f94" stroke-width="0.7"/>
<path d="M361.86,104.89 L364.55,106.87 L366.98,108.54" fill="none" stroke="#858f94" stroke-width="0.7"/>
<path d="M364.35,104.64 L365.89,107.85 L366.53,111.26" fill="none" stroke="#858f94" stroke-width="0.7"/>
<path d="M365.27,102.32 L367.91,104.52 L369.57,106.84" fill="none" stroke="#858f94" stroke-width="0.7"/>
<path d="M367.33,101.59 L369.74,104.89 L371.95,107.32" fill="none" stroke="#858f94" stroke-width="0.7"/>
<path d="M370.04,98.66 L372.34,101.93 L373.46,104.74" fill="none" stroke="#858f94" stroke-width="0.7"/>
<path d="M370.75,96.56 L374.47,95.14 L378.28,94.73" fill="none" stroke="#858f94" stroke-width="0.7"/>
<path d="M371.54,94.5 L374.76,96.01 L377.76,96.74" fill="none" stroke="#858f94" stroke-width="0.7"/>
<path d="M374.22,94.37 L375.35,97.38 L377.03,100.2" fill="none" stroke="#858f94" stroke-width="0.7"/>
<path d="M374.53,91.84 L376.31,92.58 L378.41,93.45" fill="none" stroke="#858f94" stroke-width="0.7"/>
<path d="M376.52,91.02 L377.69,92.57 L378.27,93.7" fill="none" stroke="#858f94" stroke-width="0.7"/>
<path d="M383.89,86.33 L385.14,88.13 L386.5,89.78" fill="none" stroke="#858f94" stroke-width="0.7"/>
<path d="M387.03,83.44 L389.09,84.64 L391.01,85.88" fill="none" stroke="#858f94" stroke-width="0.7"/>
<path d="M387.08,80.63 L389.14,80.65 L390.71,80.12" fill="none" stroke="#858f94" stroke-width="0.7"/>
<path d="M388.42,78.99 L389.4,82.21 L390.79,84.37" fill="none" stroke="#858f94" stroke-width="0.7"/>
<path d="M391.19,78.67 L391.8,80.04 L392.27,81.07" fill="none" stroke="#858f94" stroke-width="0.7"/>
<path d="M392.95,77.21 L393.39,80.3 L393.2,83.61" fill="none" stroke="#858f94" stroke-width="0.7"/>
<path d="M394.95,75.94 L394.8,77.81 L395.44,78.9" fill="none" stroke="#858f94" stroke-width="0.7"/>
<path d="M396.95,74.67 L399.75,76.34 L402.7,77.26" fill="none" stroke="#858f94" stroke-width="0.7"/>
<path d="M397.57,72.53 L399.93,72.4 L401.38,72.25" fill="none" stroke="#858f94" stroke-width="0.7"/>
<path d="M398.76,71.13 L401.34,72.62 L402.6,73.52" fill="none" stroke="#858f94" stroke-width="0.7"/>
<path d="M401.69,71.87 L400.79,75.87 L399.68,78.39" fill="none" stroke="#858f94" stroke-width="0.7"/>
<path d="M403.62,68.52 L401.59,72.52 L399.67,75.76" fill="none" stroke="#858f94" stroke-width="0.7"/>
<path d="M405.69,67.65 L405.54,70.06 L405.56,72.68" fill="none" stroke="#858f94" stroke-width="0.7"/>
<path d="M408.11,67.33 L406.4,69.25 L405.6,71.37" fill="none" stroke="#858f94" stroke-width="0.7"/>
<path d="M410.96,65.95 L407.65,68.07 L405.52,70.6" fill="none" stroke="#858f94" stroke-width="0.7"/>
<path d="M413.09,64.46 L414.7,67.92 L416.85,71.47" fill="none" stroke="#858f94" stroke-width="0.7"/>
<path d="M414.65,65.91 L414.12,68.02 L413.3,69.58" fill="none" stroke="#858f94" stroke-width="0.7"/>
<path d="M416.36,66.61 L416.15,69.17 L416.58,70.79" fill="none" stroke="#858f94" stroke-width="0.7"/>
<path d="M418.48,65.99 L419.34,69.73 L420.07,73.22" fill="none" stroke="#858f94" stroke-width="0.7"/>
<path d="M420.89,63.14 L421.83,64.9 L421.78,65.79" fill="none" stroke="#858f94" stroke-width="0.7"/>
<path d="M422.58,62.12 L423.84,65.3 L425.28,67.02" fill="none" stroke="#858f94" stroke-width="0.7"/>
<path d="M424.21,63.22 L423.87,64.47 L423.63,65.72" fill="none" stroke="#858f94" stroke-width="0.7"/>
<path d="M425.65,65.27 L422.1,65.97 L419.81,67.16" fill="none" stroke="#858f94" stroke-width="0.7"/>
<path d="M427.58,64.82 L429.87,68.54 L431.72,71.33" fill="none" stroke="#858f94" stroke-width="0.7"/>
<path d="M431.69,63.88 L431.53,65.2 L430.91,67.19" fill="none" stroke="#858f94" stroke-width="0.7"/>
<path d="M433.44,64.51 L430.01,67.04 L427.95,69.52" fill="none" stroke="#858f94" stroke-width="0.7"/>
<path d="M434.65,66.88 L433.11,69.88 L431.91,71.51" fill="none" stroke="#858f94" stroke-width="0.7"/>
<path d="M439.79,69.36 L438.26,70.72 L436.93,71.79" fill="none" stroke="#858f94" stroke-width="0.7"/>
<path d="M440.27,74.14 L437.94,75.23 L435.18,75.52" fill="none" stroke="#858f94" stroke-width="0.7"/>
<path d="M441.16,76.17 L440.17,78.24 L438.98,80.41" fill="none" stroke="#858f94" stroke-width="0.7"/>
<path d="M443.08,76.83 L443.19,78.49 L442.39,79.3" fill="none" stroke="#858f94" stroke-width="0.7"/>
<path d="M444.5,78 L442.62,79.58 L441.31,80.79" fill="none" stroke="#858f94" stroke-width="0.7"/>
<path d="M334.92,274.4 L335.57,272.49 L336.74,271.81" fill="none" stroke="#848f96" stroke-width="0.7"/>
<path d="M334.59,270.46 L336.72,270.44 L338.11,270.24" fill="none" stroke="#848f96" stroke-width="0.7"/>
<path d="M332.26,267.52 L333.15,267.56 L333.99,268.21" fill="none" stroke="#848f96" stroke-width="0.7"/>
<path d="M329.35,263.61 L328.77,262.92 L327.96,262.65" fill="none" stroke="#848f96" stroke-width="0.7"/>
<path d="M328.19,267.35 L327.31,267.04 L327.39,266.03" fill="none" stroke="#848f96" stroke-width="0.7"/>
<path d="M196.74,355.89 L197.48,357.3 L197.45,359.02" fill="none" stroke="#848f96" stroke-width="0.7"/>
<path d="M198.95,353.92 L200.25,353.94 L200.89,354.62" fill="none" stroke="#848f96" stroke-width="0.7"/>
<path d="M199.41,350.98 L200.53,351.02 L201.58,350.44" fill="none" stroke="#848f96" stroke-width="0.7"/>
<path d="M199.56,347.93 L200.18,347.59 L201.33,346.64" fill="none" stroke="#848f96" stroke-width="0.7"/>
<path d="M194.67,338.2 L196.32,338.26 L198.11,337.67" fill="none" stroke="#848f96" stroke-width="0.7"/>
<path d="M196.25,335.08 L197.26,336.12 L198.22,337.22" fill="none" stroke="#848f96" stroke-width="0.7"/>
<path d="M196.56,331.85 L197.85,331.99 L198.33,331.56" fill="none" stroke="#848f96" stroke-width="0.7"/>
<path d="M192.28,332.29 L191.82,330.62 L192.11,328.92" fill="none" stroke="#848f96" stroke-width="0.7"/>
<path d="M190.06,333.44 L189.2,332.53 L188.45,332.24" fill="none" stroke="#848f96" stroke-width="0.7"/>
<path d="M187,332.8 L187.11,331.51 L187.86,330.46" fill="none" stroke="#848f96" stroke-width="0.7"/>
<path d="M184,333.22 L183.33,331.84 L183.03,331.49" fill="none" stroke="#848f96" stroke-width="0.7"/>
<path d="M180.96,330.04 L182.53,330.3 L183.41,329.72" fill="none" stroke="#848f96" stroke-width="0.7"/>
<path d="M182.13,327.55 L184.4,327.57 L185.64,327.33" fill="none" stroke="#848f96" stroke-width="0.7"/>
<path d="M182.88,324.95 L185.26,325.57 L186.5,325.53" fill="none" stroke="#848f96" stroke-width="0.7"/>
<path d="M184.92,323.59 L185.26,324.56 L185.15,326.02" fill="none" stroke="#848f96" stroke-width="0.7"/>
<path d="M188.08,320.08 L188.82,321.09 L189.21,321.77" fill="none" stroke="#848f96" stroke-width="0.7"/>
<path d="M188.65,317.83 L190.31,317.72 L191.96,318" fill="none" stroke="#848f96" stroke-width="0.7"/>
<path d="M189.1,314.9 L189.72,314.86 L190.73,315.61" fill="none" stroke="#848f96" stroke-width="0.7"/>
<path d="M188.32,311.95 L189.41,311.61 L191.13,311.44" fill="none" stroke="#848f96" stroke-width="0.7"/>
<path d="M186.49,309.17 L187.32,308.03 L187.1,307.79" fill="none" stroke="#848f96" stroke-width="0.7"/>
<path d="M186.45,305.85 L187.58,305.28 L189.28,304.86" fill="none" stroke="#848f96" stroke-width="0.7"/>
<path d="M185.74,303.32 L186.39,303.48 L187.23,303.61" fill="none" stroke="#848f96" stroke-width="0.7"/>
<path d="M184.77,298.03 L186.31,297.61 L187.94,298.12" fill="none" stroke="#848f96" stroke-width="0.7"/>
<path d="M183.74,294.57 L185.26,295.27 L186.95,295.51" fill="none" stroke="#848f96" stroke-width="0.7"/>
<path d="M185.08,288.72 L186,289.09 L187.22,289.78" fill="none" stroke="#848f96" stroke-width="0.7"/>
<path d="M186.44,286.09 L187.18,285.91 L187.98,286.51" fill="none" stroke="#848f96" stroke-width="0.7"/>
<path d="M186.47,283.25 L187.57,283.06 L187.96,283.48" fill="none" stroke="#848f96" stroke-width="0.7"/>
<path d="M188.37,281.44 L188.97,282.37 L189.84,283.25" fill="none" stroke="#848f96" stroke-width="0.7"/>
<path d="M189.74,278.93 L190.59,279.48 L190.69,280.44" fill="none" stroke="#848f96" stroke-width="0.7"/>
<path d="M190.58,276.38 L191.07,276.38 L192.14,276.64" fill="none" stroke="#848f96" stroke-width="0.7"/>
<path d="M191.8,274 L192.52,275.88 L193.95,277.35" fill="none" stroke="#848f96" stroke-width="0.7"/>
<path d="M192.52,271.12 L193.91,271.95 L194.33,272.55" fill="none" stroke="#848f96" stroke-width="0.7"/>
<path d="M201.04,270.21 L200.9,271.11 L199.99,272.26" fill="none" stroke="#848f96" stroke-width="0.7"/>
<path d="M206.71,270.99 L206.06,272.36 L205.88,273.15" fill="none" stroke="#848f96" stroke-width="0.7"/>
<path d="M208.03,275.07 L206.97,273.92 L205.87,273.61" fill="none" stroke="#848f96" stroke-width="0.7"/>
<path d="M198.15,285.96 L197.47,285.09 L197.21,285.14" fill="none" stroke="#848f96" stroke-width="0.7"/>
<path d="M203.8,286.7 L203.66,287.41 L202.66,288.1" fill="none" stroke="#848f96" stroke-width="0.7"/>
<path d="M217.96,293.98 L216.59,292.9 L216.06,292.75" fill="none" stroke="#848f96" stroke-width="0.7"/>
<path d="M429.04,158.46 L430.05,157.78 L430,158.1" fill="none" stroke="#848f96" stroke-width="0.7"/>
<path d="M428.13,169.17 L428.83,169.28 L429.81,169.81" fill="none" stroke="#848f96" stroke-width="0.7"/>
<path d="M426.11,171.01 L426.67,171.82 L426.59,172.98" fill="none" stroke="#848f96" stroke-width="0.7"/>
<path d="M422.6,178.3 L422.85,178.73 L423.82,178.97" fill="none" stroke="#848f96" stroke-width="0.7"/>
<path d="M420.79,180.35 L421.72,181.1 L422.22,181.89" fill="none" stroke="#848f96" stroke-width="0.7"/>
<path d="M416.42,192.51 L417.39,192.48 L417.38,192.11" fill="none" stroke="#848f96" stroke-width="0.7"/>
<path d="M413.76,196.9 L414.42,196.87 L415.7,197.55" fill="none" stroke="#848f96" stroke-width="0.7"/>
<path d="M410.11,199.21 L411.01,199.8 L411.64,200.46" fill="none" stroke="#848f96" stroke-width="0.7"/>
<path d="M411.3,208.76 L411.7,208.84 L412.5,209.24" fill="none" stroke="#848f96" stroke-width="0.7"/>
<path d="M412.64,214.09 L413.12,214.11 L413.62,214.89" fill="none" stroke="#848f96" stroke-width="0.7"/>
<path d="M414.62,227.43 L415.67,228.04 L415.9,227.76" fill="none" stroke="#848f96" stroke-width="0.7"/>
<path d="M415.98,234.59 L417.36,233.62 L417.68,233.44" fill="none" stroke="#848f96" stroke-width="0.7"/>
<path d="M426.48,244.53 L426.29,243.43 L426.01,242.61" fill="none" stroke="#848f96" stroke-width="0.7"/>
<path d="M436.01,248.1 L435.44,248.06 L435.28,247.75" fill="none" stroke="#848f96" stroke-width="0.7"/>
<path d="M439.16,247.86 L439.1,247.08 L438.68,246.26" fill="none" stroke="#848f96" stroke-width="0.7"/>
<path d="M441.7,245.76 L441.84,245.13 L441.24,243.89" fill="none" stroke="#848f96" stroke-width="0.7"/>
<path d="M444.97,245.14 L444.89,244.45 L445.03,243.85" fill="none" stroke="#848f96" stroke-width="0.7"/>
<path d="M447.39,243.49 L446.25,243.2 L445.62,242.22" fill="none" stroke="#848f96" stroke-width="0.7"/>
<path d="M452.03,240.05 L451.55,239.3 L450.79,238.97" fill="none" stroke="#848f96" stroke-width="0.7"/>
<path d="M454.56,238.71 L453.89,237.67 L452.93,237.54" fill="none" stroke="#848f96" stroke-width="0.7"/>
<path d="M464.05,235.1 L463.83,234.44 L464.39,234.18" fill="none" stroke="#848f96" stroke-width="0.7"/>
<path d="M98.64,107.15 L99.4,108.06 L100.06,109.31" fill="none" stroke="#848f96" stroke-width="0.7"/>
<path d="M101.24,106.76 L100.9,107.7 L100.6,108.95" fill="none" stroke="#848f96" stroke-width="0.7"/>
<path d="M102.72,104.78 L103.5,105.68 L104.93,105.88" fill="none" stroke="#848f96" stroke-width="0.7"/>
<path d="M105.19,104.47 L105.98,105.24 L105.72,105.44" fill="none" stroke="#848f96" stroke-width="0.7"/>
<path d="M109.13,102.71 L109.94,102.92 L110.6,103.79" fill="none" stroke="#848f96" stroke-width="0.7"/>
<path d="M112.95,100.86 L113.69,102.54 L114.97,103.13" fill="none" stroke="#848f96" stroke-width="0.7"/>
<path d="M114.79,102.78 L113.99,103.12 L113.36,103.96" fill="none" stroke="#848f96" stroke-width="0.7"/>
<path d="M116.73,104.36 L116.2,104.39 L115.25,104.94" fill="none" stroke="#848f96" stroke-width="0.7"/>
<path d="M119.14,112.44 L118.02,112.1 L116.69,112.51" fill="none" stroke="#848f96" stroke-width="0.7"/>
<path d="M119.8,115.08 L119.42,115.29 L118.33,114.76" fill="none" stroke="#848f96" stroke-width="0.7"/>
<path d="M119.61,117.03 L118.33,117.63 L117.49,117.22" fill="none" stroke="#848f96" stroke-width="0.7"/>
<path d="M118.97,118.99 L118.55,119.71 L117.81,119.41" fill="none" stroke="#848f96" stroke-width="0.7"/>
<path d="M121.54,118.71 L121.95,119.73 L121.83,121.07" fill="none" stroke="#848f96" stroke-width="0.7"/>
<path d="M124.02,118.12 L123.92,119.18 L124.41,120.65" fill="none" stroke="#848f96" stroke-width="0.7"/>
<path d="M124.36,115.84 L125.21,116.34 L125.73,117.11" fill="none" stroke="#848f96" stroke-width="0.7"/>
<path d="M127.82,115.98 L126.83,116.94 L125.2,117.89" fill="none" stroke="#848f96" stroke-width="0.7"/>
<path d="M135.08,117.58 L134.51,118.47 L134.27,119.66" fill="none" stroke="#848f96" stroke-width="0.7"/>
<path d="M138,121 L137.66,122.52 L136.88,123.8" fill="none" stroke="#848f96" stroke-width="0.7"/>
<path d="M142.08,121.19 L142.52,121.65 L143.03,122.63" fill="none" stroke="#848f96" stroke-width="0.7"/>
<path d="M143.96,122.25 L143.94,124.21 L143.04,125.37" fill="none" stroke="#848f96" stroke-width="0.7"/>
<path d="M146.47,121.36 L147.68,123.03 L148.63,123.99" fill="none" stroke="#848f96" stroke-width="0.7"/>
<path d="M148.96,120.82 L150.24,122.59 L150.75,123.35" fill="none" stroke="#848f96" stroke-width="0.7"/>
<path d="M151.32,119.92 L152.28,120.93 L152.43,122.11" fill="none" stroke="#848f96" stroke-width="0.7"/>
<path d="M157.08,119.84 L157.11,121.32 L156.5,122.39" fill="none" stroke="#848f96" stroke-width="0.7"/>
<path d="M158.68,121.87 L157.78,122.84 L156.31,124.31" fill="none" stroke="#848f96" stroke-width="0.7"/>
<path d="M160.23,123.83 L159.99,124.02 L159.88,124.83" fill="none" stroke="#848f96" stroke-width="0.7"/>
<path d="M161.96,126.58 L160.5,126.68 L159.62,126.77" fill="none" stroke="#848f96" stroke-width="0.7"/>
<path d="M162.26,129.06 L161.47,129.72 L161.05,129.87" fill="none" stroke="#848f96" stroke-width="0.7"/>
<path d="M162.42,131.02 L161.64,132.3 L160.33,132.84" fill="none" stroke="#848f96" stroke-width="0.7"/>
<path d="M163.06,132.99 L161.98,134.26 L161.9,134.81" fill="none" stroke="#848f96" stroke-width="0.7"/>
<path d="M163.65,134.95 L162.95,134.76 L162.02,134.94" fill="none" stroke="#848f96" stroke-width="0.7"/>
<path d="M164.25,136.9 L163.77,137.12 L162.66,137.68" fill="none" stroke="#848f96" stroke-width="0.7"/>
<path d="M163.81,139.03 L161.62,138.63 L160.56,138.12" fill="none" stroke="#848f96" stroke-width="0.7"/>
<path d="M163.63,141.53 L161.71,141 L160.48,140.2" fill="none" stroke="#848f96" stroke-width="0.7"/>
<path d="M163.03,144.01 L162.74,144.28 L161.93,143.64" fill="none" stroke="#848f96" stroke-width="0.7"/>
<path d="M161.85,145.93 L159.63,144.95 L158.52,144.91" fill="none" stroke="#848f96" stroke-width="0.7"/>
<path d="M161.34,148.17 L160.03,147.31 L159.06,146.38" fill="none" stroke="#848f96" stroke-width="0.7"/>
<path d="M159.07,148.56 L159.12,147.29 L159.14,146.45" fill="none" stroke="#848f96" stroke-width="0.7"/>
<path d="M157.34,149.46 L156.8,148.81 L156.49,148.73" fill="none" stroke="#848f96" stroke-width="0.7"/>
<path d="M156.12,151.2 L155.31,149.59 L154.74,148.76" fill="none" stroke="#848f96" stroke-width="0.7"/>
<path d="M153.77,151.55 L154,149.74 L153.34,149.01" fill="none" stroke="#848f96" stroke-width="0.7"/>
<path d="M151.86,152.72 L151.43,151.7 L150.37,150.36" fill="none" stroke="#848f96" stroke-width="0.7"/>
<path d="M150.09,154.17 L149.98,152.98 L149.24,151.64" fill="none" stroke="#848f96" stroke-width="0.7"/>
<path d="M104.56,128.83 L105.89,127.45 L107.55,127.02" fill="none" stroke="#848f96" stroke-width="0.7"/>
<path d="M104.12,126.53 L105.48,126.29 L107.08,125.26" fill="none" stroke="#848f96" stroke-width="0.7"/>
<path d="M102.04,124.97 L103.52,124.1 L104.39,122.61" fill="none" stroke="#848f96" stroke-width="0.7"/>
<path d="M100.05,124.11 L99.75,122.2 L99.34,120.99" fill="none" stroke="#848f96" stroke-width="0.7"/>
<path d="M97.86,123.87 L99.06,123.03 L99.25,121.84" fill="none" stroke="#848f96" stroke-width="0.7"/>
<path d="M94.05,121.87 L94.72,121.28 L95.71,119.96" fill="none" stroke="#848f96" stroke-width="0.7"/>
<path d="M94.92,119.96 L96.34,120.97 L97.23,122.44" fill="none" stroke="#848f96" stroke-width="0.7"/>
<path d="M99.12,120.53 L99.24,120.67 L99.27,121.64" fill="none" stroke="#848f96" stroke-width="0.7"/>
<path d="M103.07,121.73 L103.38,123.25 L103.34,123.74" fill="none" stroke="#848f96" stroke-width="0.7"/>
<path d="M105.51,121.02 L105.91,122.33 L106.6,123.22" fill="none" stroke="#848f96" stroke-width="0.7"/>
<path d="M108.08,120.19 L108.69,121.13 L109.14,122.66" fill="none" stroke="#848f96" stroke-width="0.7"/>
<path d="M109.29,116.07 L110.69,117.05 L111.06,117.02" fill="none" stroke="#848f96" stroke-width="0.7"/>
<path d="M106.98,114.53 L107.67,113.59 L107.52,113.41" fill="none" stroke="#848f96" stroke-width="0.7"/>
<path d="M105.26,112.66 L105.7,111.53 L106.31,111.17" fill="none" stroke="#848f96" stroke-width="0.7"/>
<path d="M102.85,112.78 L103,110.84 L102.85,109.79" fill="none" stroke="#848f96" stroke-width="0.7"/>
<path d="M100.96,111.78 L101.13,111.1 L100.68,109.77" fill="none" stroke="#848f96" stroke-width="0.7"/>
<path d="M98.96,111.13 L99.87,110.35 L100.57,109.56" fill="none" stroke="#848f96" stroke-width="0.7"/>
<path d="M542.5,558 L538,561 L534,564.5 L530.5,567" fill="none" stroke="#e5fcff" stroke-width="1.3"/>
<path d="M534,564.5 L530.5,567" fill="none" stroke="#848f96" stroke-width="0.5"/>
<path d="M560.5,538.5 L561.5,542 L562,546" fill="none" stroke="#e5fcff" stroke-width="1.0"/>
<path d="M337.3,277.4 L339.19,273.1 L339.35,269.65 L339.58,266.1 L340.93,261.84 L343.13,259.88 L345.07,257.57 L345.78,254.08 L345.82,250.5 L344.44,248.3 L343.89,245.78 L342.72,243.51 L345.44,241.64 L347.41,239.41 L346.67,236.37 L346.38,233.52 L344.56,231.14 L342.06,229.34 L341.95,226.79 L342.06,224.39 L342.4,222 L342.47,218.99 L342.68,215.97 L341.81,213.01 L341.82,209.89 L340.73,206.99 L340.26,203.94 L341.33,201.46 L341.65,198.54 L343.09,196.03 L345.21,193.21 L347.77,190.77 L350.98,190.39 L354.03,190.18 L354.57,187.01 L354.8,183.97 L351.1,181.8 L352.42,179.85 L352.73,177.22 L353.97,174.99 L354.81,172.71 L355.76,170.45 L355.76,167.93 L356.39,165.34 L357.18,162.73 L357.07,160.01 L358.23,157.08 L359.17,154.06 L360.34,151.67 L361.47,149.22 L363.05,147.03 L363.63,144.38 L364.03,141.71 L365.18,139.21 L365.31,136.48 L366.08,134.02 L367.08,131.63 L367.83,129.17 L368.45,126.67 L370.12,124.92 L371.68,122.88 L373.09,120.53 L374.09,117.95 L374.73,115.25 L377.14,115.14 L379.6,114.51 L382.8,114.84 L385.99,115.25 L385.85,112.33 L386.66,109.55 L386.94,106.72 L389.37,104.42 L390.81,102.26 L391.6,99.7" fill="none" stroke="#15235c" stroke-width="1.05"/>
<path d="M391.6,99.7 L391.16,102.49 L391.1,105.32 L393.48,108.41 L396.31,110.35 L399.41,111.68 L402.1,113.6 L405.1,115.04 L407.37,117.13 L409.4,119.4 L409.79,122.4 L410.88,125.15 L411.69,128.24 L413.85,130.67 L414.63,133.57 L415.26,136.44 L415.17,139.38 L416.08,142.14 L416.42,145 L417.87,147.41 L418.92,150.04 L420.5,153" fill="none" stroke="#15235c" stroke-width="1.05"/>
<path d="M391.6,99.7 L394.35,101.5 L396.55,103.96 L398.96,105.8 L400.7,108.3 L404.04,107.21 L407.18,105.93 L409.8,106.13 L412.4,106.07 L415,105.7 L416.43,102.86 L417.87,99.73 L417.82,96.87 L418.22,94.03 L417.96,91.2 L418.13,88.81 L418.44,86.41 L418.96,84.05 L421.74,82.96 L424.04,81.41 L426.34,79.86 L429.18,81.19 L432,82.7 L434.27,83.85 L436.2,85.5" fill="none" stroke="#15235c" stroke-width="1.05"/>
<path d="M436.2,85.5 L440.5,83.4 L443.3,81.2 L444.5,78" fill="none" stroke="#363636" stroke-width="1.05"/>
<path d="M436.2,85.5 L435.33,88.29 L435.53,91.2 L435.26,94 L435.34,96.8 L436.5,99.08 L437.35,101.4 L437.53,103.92 L440.07,106.13 L441.96,108.85 L444.53,111.02 L447.47,112.61 L450.67,114.81 L451.13,117.64 L451.14,120.31 L450.78,123.01 L452.17,125.54 L452.63,128.26 L453.25,130.94 L454.7,133.48 L455.64,136.34 L457.19,138.91 L458.09,141.63 L458.76,144.42 L459.86,147.05 L460.43,149.66 L460.35,152.37 L460.95,155.01 L462.37,157.54 L464.56,159.51 L466.07,161.95 L467.26,164.38 L468.24,166.91 L469.93,169.04 L470.53,172.5 L471.16,175.98 L473.43,176.78 L475.79,177.71 L477.87,179.3 L480.09,181.01 L482.41,182.69 L484.99,184.02 L485.27,187.04 L486.13,189.98 L485.35,192.67 L485.04,195.43 L484.05,198.01 L483.26,201.09 L482.42,204.14 L480.74,206.91 L480.42,210.14 L478.67,212.89 L477.88,215.96 L477.07,218.87 L475.35,221.34 L473.71,223.85 L471.98,226.7 L470.9,229.9" fill="none" stroke="#15235c" stroke-width="1.05"/>
<path d="M475.2,248.3 L475.05,251.21 L475.66,254.03 L474.7,256.27 L474.24,258.85 L473.1,261.14 L473.88,263.99 L475.01,266.77 L476.83,268.58 L477.86,270.79 L478.47,273.23 L478.85,277.01 L477.9,280" fill="none" stroke="#15235c" stroke-width="1.05"/>
<path d="M452.4,280.7 L454.82,279.22 L456.64,277.02 L459.42,278.11 L462.23,278.79 L464.76,279.52 L466.9,281.16 L469.45,282 L472.16,281.04 L475.08,280.6 L477.9,280" fill="none" stroke="#15235c" stroke-width="1.05"/>
<path d="M477.9,280 L479.49,281.91 L481.21,283.69 L483.32,286.11 L484.04,289.33 L485.38,292.16 L487.36,294.67 L488.21,297.46 L489.72,299.9 L489.9,301.9" fill="none" stroke="#15235c" stroke-width="1.05"/>
<path d="M489.9,301.9 L488.75,304.87 L487.05,307.58 L484.98,308.98 L483.53,311.03 L480,313.2" fill="none" stroke="#15235c" stroke-width="1.05"/>
<path d="M427.6,314.7 L430.31,310.95 L433.76,310.38 L436.88,309.24 L440.34,308.52 L443.89,308.15 L447.45,307.97 L451,308.02 L453.78,307.3 L456.65,306.71 L460.35,304.18 L463.1,305.32 L465.63,306.24 L467.89,307.86 L470.65,309.41 L473.82,310.16 L476.93,311.62 L480,313.2" fill="none" stroke="#15235c" stroke-width="1.05"/>
<path d="M480,313.2 L480.94,315.99 L481.43,318.89 L479.28,321.68 L478.66,324.7 L477.2,327.4 L474.83,331.57 L473.66,335.89 L475.09,339.4 L471.46,340.01 L468.02,343.03 L463.77,345.23 L460.53,345.28 L457.5,346.2" fill="none" stroke="#15235c" stroke-width="1.05"/>
<path d="M448.2,340.9 L452.4,342.3 L455.2,345.1 L457.5,346.2" fill="none" stroke="#15235c" stroke-width="1.05"/>
<path d="M430.5,329.5 L432.95,329.98 L435.4,329.43 L438.16,330.59 L441.14,330.84 L445.3,332.39 L446.84,335.84 L445.97,339.39 L448.2,340.9" fill="none" stroke="#15235c" stroke-width="1.05"/>
<path d="M448.2,340.9 L445.26,341.25 L442.55,342.48 L440.04,342.29 L437.77,343.24 L435.41,343.77 L431.84,343.92 L428.32,344.62 L425.47,344.74 L422.63,344.49 L419.8,344.58 L418.4,344.4" fill="none" stroke="#15235c" stroke-width="1.05"/>
<path d="M457.5,346.2 L458.32,349.03 L458.92,351.92 L459.82,354.72 L460.63,357.21 L461.35,359.73 L462.54,362.06 L463.07,364.75 L462.88,367.5 L460.89,369.83 L459.06,372.15 L459.48,374.59 L460.76,376.76 L462.43,378.95 L464.04,381.14 L465.4,383.5" fill="none" stroke="#15235c" stroke-width="1.05"/>
<path d="M489.9,301.9 L492.67,301.75 L495.25,303.03 L497.98,303.15 L501.17,303.5 L503.99,305.03 L505.84,303.43 L508.23,302.68 L510.13,301.19 L512.74,301.8 L515.3,303.1 L518,304 L518.9,306.61 L519.4,309.32 L520.07,311.98 L521.36,313.98 L522.25,316.28 L523.87,318.08 L526.36,319.64 L528.11,321.89 L529.78,324.22 L532.87,325.76 L535.97,327.06 L538.95,328.15 L541.96,329.12 L544.26,330.74 L546.04,332.96 L544.87,335.14 L543.62,337.19 L541.9,338.93 L540.28,340.76 L538.2,341.96 L535.92,342.88 L536.59,346.14 L538.12,348.96 L539.15,352.17 L540.8,355.1 L542,357" fill="none" stroke="#363636" stroke-width="1.05"/>
<path d="M542,357 L539.13,358.75 L536.12,360.24 L534.34,362.92 L533.15,366.08 L533.87,369.04 L535.22,371.93 L531.5,371.47 L528,371.88 L525.36,372.56 L522.73,373.14 L519.97,372.78 L516.86,373.58 L514.03,375.1 L511.44,376.09 L508.54,375.82 L505.94,376.75 L503.33,376.71 L500.61,376.76 L498.02,375.84 L495.33,375.48 L492.67,376.22 L490,376.09 L487.46,375.85 L484.97,376.23 L482.45,376.29 L479.99,376.92 L477.44,378.28 L474.49,378.54 L471.93,379.81 L469.61,380.81 L467.69,382.49 L465.4,383.5" fill="none" stroke="#363636" stroke-width="1.05"/>
<path d="M542,357 L545.19,355.89 L547.91,353.82 L549.73,352.01 L551.73,350.34 L554.11,349.13 L556.76,348.72 L559.46,348.19 L562.03,347.11 L563.91,348.62 L565.93,350.1 L567.27,352.24 L568.45,354.53 L570.09,356.56 L571.26,358.85 L573.96,359.74 L576.96,360 L579.97,360.3 L581.8,362.51 L583.93,364.73 L586.17,366.86 L588.29,368.85 L590.99,370.02 L594.09,369.73 L597.07,368.97 L600.04,368.18 L602.42,366.45 L604.86,364.93 L606.97,362.96 L609.2,364.86 L611.65,366.36 L613.96,368.06 L616.79,367.84 L619.44,367.08 L622.03,366.14 L624.5,366.11 L627,365.71 L629.5,366.37 L632,365.94 L634.68,366.19 L637.28,367.06 L640,366.99 L640.28,370.53 L641.21,373.97 L641.4,376.41 L641.85,378.8 L642.93,381.02 L644.02,383.21 L645.6,385.04 L646.88,387.08 L646.56,390.51 L646.12,394.02 L643.43,394.92 L641.25,396.52 L638.86,397.76 L637.14,400.62 L635.13,403.1 L634.46,406.49 L634,410" fill="none" stroke="#363636" stroke-width="1.05"/>
<path d="M465.4,383.5 L466,386.22 L467.16,388.74 L468.06,391.35 L469.92,393.52 L470.52,396.31 L471.76,398.77 L470.97,401.46 L470.01,404.2 L468.7,406.78 L467.02,409.12 L465.35,411.47 L463.84,413.79 L462.93,416.4 L461.83,418.91 L461.7,421.36 L460.92,423.73 L461.02,426.21 L462.7,428.5" fill="none" stroke="#15235c" stroke-width="1.05"/>
<path d="M462.7,428.5 L460.18,428.01 L457.72,427.32 L455.38,426.26 L452.89,426.27 L450.45,425.7 L447.97,425.55 L445.56,425.87 L443.12,426.43 L440.72,427.2 L437.8,428.2 L435.34,430.18 L433.1,428.47 L430.58,428.04 L428.11,426.97 L425.96,425.36 L424.26,427.16 L422.63,429.13 L419.6,427.1" fill="none" stroke="#15235c" stroke-width="1.05"/>
<path d="M419.6,427.1 L417.48,424.2 L414.84,421.73 L411.97,419.64 L409.44,417.07 L406.38,415.82 L403.06,415.32 L400.22,415.7 L397.58,416.93 L395.3,415.64 L393.04,414.24 L390.34,410.57 L387.05,409.68 L383.86,408.6 L381.12,407.66 L378.3,406.89 L375.2,405.5" fill="none" stroke="#15235c" stroke-width="1.05"/>
<path d="M375.2,405.5 L375.31,402.81 L374.15,400.3 L374.46,397.58 L373.83,395 L373.6,392.55 L372.46,390.38 L371.63,388.12 L370.73,385.88 L369.78,383.56 L369.16,381.02 L368.03,378.73 L366.25,376.77 L367.37,373.7 L367.36,370.5 L368.35,367.51 L367.86,364.78 L367.37,362.07 L367.3,359.3" fill="none" stroke="#15235c" stroke-width="1.05"/>
<path d="M375.2,405.5 L372.2,406.18 L369.25,407.1 L366.17,408.34 L363.65,410.53 L361.22,411.75 L358.61,412.63 L356.52,414.54 L354.08,415.22 L352.21,416.97 L349.98,418.04 L347.28,420.78 L348.31,423.57 L349.64,426.33 L351.56,429.08 L353.7,431.63 L356.21,434.19 L358.31,437.11 L360.25,438.81 L361.86,440.87 L363.7,442.7 L365.45,444.62 L366.5,447" fill="none" stroke="#15235c" stroke-width="1.05"/>
<path d="M366.5,447 L369.53,446.05 L372.71,446.05 L375.39,444.3 L378.34,443.04 L380.99,442.02 L383.7,441.01 L386.07,441.78 L388.6,441.37 L390.97,442.13 L393.48,442.11 L395.91,442.69 L398.36,443.11 L400.5,443.8" fill="none" stroke="#15235c" stroke-width="1.05"/>
<path d="M419.6,427.1 L417.29,428.94 L414.96,430.75 L412.85,433.25 L410.2,435.2 L407.51,436.99 L404.81,438.86 L402.73,441.43 L400.5,443.8" fill="none" stroke="#15235c" stroke-width="1.05"/>
<path d="M462.7,428.5 L460.3,434 L458.5,440" fill="none" stroke="#15235c" stroke-width="1.05"/>
<path d="M458.5,440 L456.08,441.51 L453.4,442.35 L450.02,441.3 L446.73,440.55 L443.91,440.78 L441.39,442.39 L438.53,443.92 L435.86,445.89 L432.88,446.8 L430.4,448.7 L427.63,450.06 L424.85,451.4 L422.2,453.33 L419.48,455.18 L416.12,455.92 L412.98,457.06 L410.17,456.19 L407.35,456.08 L405.01,454.83 L402.8,453.5" fill="none" stroke="#15235c" stroke-width="1.05"/>
<path d="M400.5,443.8 L400.2,448.3 L402.8,453.5" fill="none" stroke="#15235c" stroke-width="1.05"/>
<path d="M402.8,453.5 L401.9,456.33 L401.97,459.3 L398.46,460.51 L397.44,462.97 L397.55,465.81 L397.18,468.55 L397.81,471.3 L395.6,474" fill="none" stroke="#15235c" stroke-width="1.05"/>
<path d="M458.5,440 L463.4,443 L467,444.8" fill="none" stroke="#15235c" stroke-width="1.05"/>
<path d="M467,444.8 L464.83,447.31 L463.55,450.4 L461.27,452.86 L459.81,455.87 L458.52,458.17 L457.99,460.79 L456.83,463.17 L455.88,465.59 L455.61,468.26 L454.07,470.45 L453.14,473.42 L451.4,476 L448.87,477.57 L446.74,479.63 L443.2,481.5" fill="none" stroke="#15235c" stroke-width="1.05"/>
<path d="M443.2,481.5 L440.44,481.87 L437.69,482.35 L434.97,483.4 L432.17,484.21 L428.5,487" fill="none" stroke="#15235c" stroke-width="1.05"/>
<path d="M428.5,487 L425.91,488.42 L422.97,488.82 L420.26,488.33 L417.45,488.16 L414.89,487.49 L412.8,485.65 L410.18,485.26 L407.33,483.53 L404.76,481.41 L402.21,479.3 L399.13,478 L397.3,475.5" fill="none" stroke="#15235c" stroke-width="1.05"/>
<path d="M397.3,475.5 L395.6,474" fill="none" stroke="#15235c" stroke-width="1.05"/>
<path d="M395.6,474 L392.21,474.96 L389.27,476.96 L386.76,477.69 L384.47,478.98 L382.01,479.79 L379.57,480.79 L376.91,481.22 L374.56,482.45 L371.72,482.57 L368.98,483.06 L365.4,483.2" fill="none" stroke="#15235c" stroke-width="1.05"/>
<path d="M328.7,478.6 L332.43,475.85 L334.87,475.81 L337.24,474.95 L339.73,475.15 L342.19,475.02 L344.63,474.8 L347.01,474.09 L350.75,475.7 L353.25,477.94 L356.34,479.29 L358.93,480.95 L361.81,482.09 L365.4,483.2" fill="none" stroke="#15235c" stroke-width="1.05"/>
<path d="M365.4,483.2 L364.4,488.7 L367.2,493.3 L368.1,497.9" fill="none" stroke="#15235c" stroke-width="1.05"/>
<path d="M397.3,475.5 L395.98,477.94 L394.83,480.47 L393.12,482.57 L391.83,484.9 L390.46,487.68 L389.48,490.64 L387.55,494.28 L384.67,496.98 L381.47,495.93 L378.21,495.9 L375.44,497.37 L372.65,498.7 L369,498.8" fill="none" stroke="#15235c" stroke-width="1.05"/>
<path d="M321.3,467.6 L325.05,469.29 L327.75,469.7 L330.5,469.13 L333.12,467.4 L335.96,465.74 L338.52,465.9 L340.91,464.97 L343.41,464.86 L345.73,463.77 L348.18,463.25 L350.73,463.13 L353.13,463.36 L355.54,463.84 L358,463.86 L359.89,460.3 L357.79,458.21 L356.06,455.81 L357.7,453.5 L359.74,451.84 L362.07,450.29 L364.36,448.75 L366.5,447" fill="none" stroke="#15235c" stroke-width="1.05"/>
<path d="M321.3,467.6 L319.5,473.1 L322.3,475.8 L326.9,476.8 L328.7,478.6" fill="none" stroke="#15235c" stroke-width="1.05"/>
<path d="M328.7,478.6 L326.92,480.52 L325.04,482.34 L322.54,482.79 L320.3,483.86 L316.86,486.01 L315.48,489.04 L314.61,492.32 L313.36,490.29 L311.08,488.92 L309.33,486.44 L306.6,485.12 L303.76,487.66 L302.36,489.86 L300.26,491.36 L298.04,492.45 L295.65,493.18 L292.76,492.9 L289.8,493.1" fill="none" stroke="#15235c" stroke-width="1.05"/>
<path d="M289.8,493.1 L288.3,488.7 L285.54,486.87 L282.9,484.85 L279.38,487.34 L280.08,484.85 L281.03,482.31 L282.35,480.2 L283.67,478.08 L284.96,475.95 L286.13,473.8 L287.46,471.73 L288.39,469.45 L290.44,467.4 L292.81,465.69 L294.99,464.35 L297.5,463.9" fill="none" stroke="#15235c" stroke-width="1.05"/>
<path d="M297.5,463.9 L300.25,463.43 L302.97,462.8 L305.84,463.08 L308.54,462.37 L311.17,463.26 L313.93,464.11 L316.5,464.37 L318.53,465.96 L321.3,467.6" fill="none" stroke="#15235c" stroke-width="1.05"/>
<path d="M286.6,431.4 L288.77,433.83 L291.14,436.06 L293.25,437.44 L295.41,438.72 L297.38,440.28 L300.03,440.29 L302.42,441.07 L304.79,441.96 L303.8,445.25 L302.02,448.27 L301,450.83 L299.3,453.07 L298.53,455.77 L297.73,458.39 L297.33,461.11 L297.5,463.9" fill="none" stroke="#15235c" stroke-width="1.05"/>
<path d="M284.8,423.2 L287.5,426.9 L286.6,431.4" fill="none" stroke="#15235c" stroke-width="1.05"/>
<path d="M280.2,430.5 L283,433.3 L286.6,431.4" fill="none" stroke="#15235c" stroke-width="1.05"/>
<path d="M284.8,423.2 L282,425.9 L280.2,430.5" fill="none" stroke="#15235c" stroke-width="1.05"/>
<path d="M282,407 L284.8,413.1 L286.6,418.6 L284.8,423.2" fill="none" stroke="#15235c" stroke-width="1.05"/>
<path d="M257.5,399 L261.96,400.11 L264.63,399.3 L267.44,398.52 L270.2,398.53 L272.86,399.54 L275.81,401.08 L278.54,403.11 L280.24,405.11 L282,407" fill="none" stroke="#15235c" stroke-width="1.05"/>
<path d="M246.3,403 L247.58,405.79 L248.98,408.51 L251.8,410.74 L254.39,413.23 L257.29,414.37 L260.1,415.59 L260.81,418.6 L262.18,421.2 L264.47,422.76 L267.36,423.33 L269.55,424.71 L271.14,426.76 L273.04,428.69 L275.5,429.76 L280.2,430.5" fill="none" stroke="#15235c" stroke-width="1.05"/>
<path d="M294.9,367.5 L296.3,370.57 L296.86,373.88 L294.92,376.41 L294.16,379.48 L293.71,382.18 L292.89,384.87 L291.78,387.51 L291.29,390.4 L288.27,391.83 L285.67,393.91 L284.82,396.84 L284.13,399.68 L283.34,402.09 L282.61,404.53 L282,407" fill="none" stroke="#15235c" stroke-width="1.05"/>
<path d="M311.2,343.1 L319.7,344.5" fill="none" stroke="#15235c" stroke-width="1.05"/>
<path d="M289.8,493.1 L289.94,496.37 L288.87,499.48 L287.56,502.23 L285.97,504.88 L287.43,508.23 L289.41,511.05 L288.73,513.7 L288.47,516.49 L290.23,518.77 L291.8,521.16 L293.78,523.68 L296,526" fill="none" stroke="#101e70" stroke-width="1.05"/>
<path d="M184.5,524.8 L186.12,526.91 L188.49,528.29 L190.11,530.39 L192.32,531.86 L194.91,532.74 L196.93,534.63 L199.84,534.93 L202.45,536.04 L204.95,537.43 L208.45,538.17 L212.01,538.23 L215.05,540.14 L218.4,541.24 L221.12,542.4 L223.51,544.13 L225.74,545.26 L228.22,545.71 L230.63,546.37 L233.9,545.61 L237.1,546.14 L240.5,548.7" fill="none" stroke="#101e70" stroke-width="1.05"/>
<path d="M94.8,528.5 L97.99,529.92 L101.32,531.02 L103.52,532.49 L106.19,532.77 L108.45,534.12 L111.62,533.75 L114.66,534.35 L117.7,534.94 L120.36,536.48 L123.08,537.94 L123.75,540.43 L124.25,543.18 L121.9,545.18 L119.4,546.78 L116.99,548.43 L115.03,550.66 L114.35,552.94 L114.45,555.45 L114.18,557.92 L112.41,560.53 L111.45,563.47 L109.86,566.13 L108.64,568.97 L106.86,571.79 L104.98,574.52 L104.12,576.79 L103.87,579.23 L103.73,581.68 L103.42,584.11 L103.24,586.56 L102.98,589 L101.52,591.68 L100.34,594.52 L99.77,597.39 L98.53,600.05 L98.39,603.01 L98,606" fill="none" stroke="#0a1678" stroke-width="1.05"/>
<path d="M162.7,318.3 L160.7,322.3 L156.7,326.3 L152.7,329 L152.7,333 L156,335 L160.7,333.7 L163.3,335.7 L164.7,339" fill="none" stroke="#15235c" stroke-width="1.05"/>
<path d="M467,444.8 L469.48,444.59 L471.96,444.4 L474.4,443.89 L476.83,443.58 L479.25,443.13 L481.73,443.22 L484.49,443.34 L487.26,443.77 L489.95,444.59 L492.1,443.66 L494.43,442.75 L496.41,441.22 L498.82,438.51 L501.79,436.47 L504.37,433.96 L507.32,431.91 L510.1,431.1" fill="none" stroke="#15235c" stroke-width="1.05"/>
<path d="M510.1,431.1 L511.27,433.49 L512.85,435.59 L514.94,437.33 L516.76,439.44 L518.58,441.58 L520.08,444 L521.8,446.6 L523.33,449.34 L524.85,452.09 L526.25,454.71 L527.33,457.5 L529.24,459.88 L529.89,462.71 L530.53,465.51 L531.92,468.03 L533.88,470.81 L535,474" fill="none" stroke="#15235c" stroke-width="1.05"/>
<path d="M510.1,431.1 L512.2,429.82 L514.34,428.59 L516.65,427.65 L518.97,427.64 L521.43,427.74 L523.9,427.13 L526.36,427.94 L528.74,428.76 L531.21,429.28 L535.14,431.8 L536.58,434.96 L538.02,437.99 L540.17,440.83 L542.82,443.18 L545.69,445.31 L547.89,448.11 L549.73,450.36 L551.06,452.97 L548.67,454.42 L546.04,455.09 L543,454.86 L540,454.86 L538.9,457.46 L537.84,459.93 L538.56,462.99 L538.85,466.03 L537.79,468.67 L536.18,471.11 L535,474" fill="none" stroke="#363636" stroke-width="1.05"/>
<path d="M535,474 L540,475 L547,473 L553,474" fill="none" stroke="#15235c" stroke-width="1.05"/>
<path d="M443.2,481.5 L444.75,483.62 L446.63,485.4 L448.51,487.19 L451.42,489.4 L453.54,492.3 L455.75,495.12 L457.75,498.12 L460.54,500.02 L463.24,501.93 L466.22,501.69 L468.9,500.78 L472.5,503.51 L473.76,506.38 L474.2,509.5" fill="none" stroke="#15235c" stroke-width="1.05"/>
<path d="M474.2,509.5 L476.59,510.78 L478.45,512.77 L481.52,512.77 L484.46,511.76 L487.5,512.04 L490.58,512.1 L493.55,511.17 L496.57,510.7 L499.73,510.91 L502.65,509.71 L505.74,509.39 L508.24,508.17 L510.53,506.66 L513.14,505.78 L516.09,503.79 L518.43,501.08 L520.95,500.21 L523.64,500.54 L525.99,499.46 L529.59,499.64 L532.95,501.09 L536.45,501.79 L539.96,502.48 L542.57,501.76 L545.2,501.9" fill="none" stroke="#15235c" stroke-width="1.05"/>
<path d="M474.2,509.5 L473.93,512.59 L474.13,515.71 L474.86,518.67 L476.74,521.18 L478.1,523.93 L479.33,526.74 L477.82,529.34 L476.52,532.11 L476.57,535.43 L477.2,538.6" fill="none" stroke="#15235c" stroke-width="1.05"/>
<path d="M477.2,538.6 L479.23,540.05 L481.04,541.78 L482.91,543.44 L484.91,545.73 L485.69,548.75 L484.83,551.83 L484.9,555.1" fill="none" stroke="#15235c" stroke-width="1.05"/>
<path d="M484.9,555.1 L488.48,553.05 L491.69,551.65 L494.9,550.28 L497.3,549.14 L500.05,549.01 L502.42,547.85 L504.83,547.69 L507.27,547.32 L509.7,548 L512.09,547.16 L514.52,546.8 L516.99,546.83 L519.37,545.9 L521.91,545.53 L524.4,544.98 L527.53,544.39 L530.3,542.8" fill="none" stroke="#0a1678" stroke-width="1.05"/>
<path d="M530.3,542.8 L530.46,540.22 L530.16,537.68 L531.45,535.61 L533.41,533.91 L536.25,533.53 L538.96,532.88 L541.68,532.21 L544.5,532.2" fill="none" stroke="#15235c" stroke-width="1.05"/>
<path d="M530.3,542.8 L530.2,548.5 L528.2,554.1 L526.1,555.5" fill="none" stroke="#15235c" stroke-width="1.05"/>
<path d="M462,565 L464.46,564.99 L466.9,564.91 L469.33,564.6 L471.83,563.2 L474.09,561.54 L476.84,560.88 L479.71,559.13 L482.23,556.94 L484.9,555.1" fill="none" stroke="#15235c" stroke-width="1.05"/>
<path d="M455.5,587.3 L457.03,585.06 L457.53,582.37 L458.7,579.37 L460.78,576.84 L461.86,574.02 L462.68,571.13 L462.74,568.01 L462,565" fill="none" stroke="#15235c" stroke-width="1.05"/>
<path d="M456.5,546.8 L455.66,549.2 L456.36,551.79 L455.76,554.22 L456.14,556.77 L456.99,559.22 L458.26,561.52 L460.08,563.33 L462,565" fill="none" stroke="#363636" stroke-width="1.05"/>
<path d="M456.5,546.8 L458.79,545.31 L461.57,544.82 L463.76,543.13 L466.4,542.61 L468.71,541.28 L471.08,540.09 L474.18,539.45 L477.2,538.6" fill="none" stroke="#363636" stroke-width="1.05"/>
<path d="M444.5,539.5 L447.3,539.5 L451,542.3 L456.5,546.8" fill="none" stroke="#363636" stroke-width="1.05"/>
<path d="M440,551.4 L440.9,545 L444.5,539.5" fill="none" stroke="#363636" stroke-width="1.05"/>
<path d="M437.2,525.8 L439.9,527.67 L442.69,529.42 L444.9,531.3 L447.28,532.92 L449.9,534.15 L447.34,537.73 L444.5,539.5" fill="none" stroke="#363636" stroke-width="1.05"/>
<path d="M437.2,525.8 L434.45,526.71 L431.62,527.36 L430.55,530.48 L428.98,533.14 L429.75,536.5 L430.22,539.96 L431.11,542.74 L433,545" fill="none" stroke="#363636" stroke-width="1.05"/>
<path d="M433,545 L437.2,549.6" fill="none" stroke="#15235c" stroke-width="1.05"/>
<path d="M433.5,501 L433.08,503.42 L433.2,505.9 L432.92,508.34 L433.69,510.71 L434.74,513.13 L435.2,515.77 L437.55,517.72 L439.14,520.19 L438.51,523.18 L437.2,525.8" fill="none" stroke="#363636" stroke-width="1.05"/>
<path d="M392.3,503.8 L395.56,503.04 L398.79,502.21 L401.81,502.08 L404.79,500.86 L407.89,500.95 L410.9,501.6 L413.99,501.41 L416.99,501.99 L420.05,502.35 L423.18,502.02 L426.22,502.55 L428.65,502.26 L430.95,501.12 L433.5,501" fill="none" stroke="#15235c" stroke-width="1.05"/>
<path d="M392.3,503.8 L393.76,506.95 L394.9,510.24 L397.06,512.46 L398.37,515.29 L400.43,517.55 L403.01,519.26 L404.6,521.93 L406.96,523.84 L409.4,525.34 L411.11,527.71 L413.52,529.26 L415.89,531.15 L418.4,532.89 L420.64,534.99 L422.95,536.27 L425.27,537.54 L427.07,539.54 L429.28,541.1 L431.04,543.16 L433,545" fill="none" stroke="#15235c" stroke-width="1.05"/>
<path d="M428.5,487 L429.4,492.5 L431.3,499.9 L433.5,501" fill="none" stroke="#15235c" stroke-width="1.05"/>
<path d="M836,110 L831.94,109.24 L829.47,108.67 L826.96,108.21 L824.55,106.42 L822.07,104.88 L819.98,107.48 L817.98,109.98 L815.81,111.04 L813.85,112.45 L812.01,114.02 L810.72,117.11 L809.23,120.11 L809.16,122.73 L808.83,125.39 L808.05,128.01 L807.24,130.5 L806.55,133.01 L805.4,135.39 L804.81,137.94 L803.3,140.28 L802.07,142.78 L801.07,145.41 L800.28,148.14 L799.21,150.63 L798.21,153.22 L798.2,156.05 L796.11,158.53 L794.5,161.23 L793.24,164.15 L792.01,166.84 L790.42,169.38 L789.11,172.06 L787.31,174.91 L786.29,178.15 L783.95,179.26 L782.08,180.79 L779.83,181.75 L778.63,183.97 L777.09,185.84 L775.84,187.89 L777.95,189.41 L780.18,190.4 L782.17,191.75 L783.91,194.09 L785.98,196.02 L788.89,194.67 L792.01,194.02 L790.9,196.29 L790.38,198.83 L788.92,200.97 L789.42,204 L789.31,207 L791.25,208.92 L794.07,209.88 L794.07,213.04 L793.03,215.97 L793.3,219.03 L795.43,219.32 L797.76,220 L799.97,221.1 L802.7,220.48 L805.23,219.25 L807.92,218.7 L809.39,221.23 L811.67,222.72 L813.02,224.98 L812.84,227.48 L811.61,229.65 L811.2,232.06 L809.33,234.06 L806.69,234.96 L805.02,237.02 L803.89,240.2 L802.18,243.09 L799.31,243.11 L796.66,243.59 L793.96,243.7 L791.38,244.71 L788.6,244.17 L786,244.99 L784.77,247.07 L783.39,249.04 L781.8,250.87 L779.82,252.36 L777.13,252.52 L774.94,253.86 L773.29,256.9 L771.92,259.96 L771.45,263.49 L770.99,267 L768.34,267.7 L765.58,268 L763.02,269.09 L761.15,271.29 L759.87,273.92 L757.17,270.83 L754.04,270.3 L751.04,269.99 L748.01,269.91 L744.94,269.85 L741.98,269.15 L739.85,270.22 L737.54,271.08 L735.39,272.32 L733.04,273.08 L731.73,275.33 L729.61,276.95 L727.83,278.86 L725.43,280.06 L722.76,280.72 L719.99,280.96 L718.8,283.88 L718.77,287.02 L718.15,290.03 L716.63,292.65 L715.08,295.21 L714.18,298.09 L713.18,300.44 L713.02,303 L712.86,305.57 L712.04,308.01 L713.19,310.41 L714.43,312.8 L715.79,315.12 L714.73,317.17 L712.86,318.9 L709.47,318.73 L705.99,318.06 L701.96,318.85 L702,322.04 L702.35,325.04 L703.1,327.99 L704.08,330.56 L704.15,333.38 L705.19,335.95 L706.36,338.53 L707.15,341.28 L708.06,343.98 L708.73,347.47 L709.16,350.98 L711.68,351.6 L714.46,351.82 L717.02,352.92 L718.35,355.12 L719.93,357.05 L723.13,356.39 L725.98,354.94 L728.92,353.76 L731.56,355.3 L734.18,356.41 L736.99,357.03 L739.28,358.33 L741.31,359.96 L742.8,362.23 L743.61,364.48 L744.19,366.96 L747.5,367.4 L751,367" fill="none" stroke="#363636" stroke-width="1.05"/>
<path d="M678,462 L679.02,459.76 L680.03,457.51 L682.58,456.38 L685.46,456.25 L688.03,455.09 L690.5,454.48 L693.05,454.27 L695.54,453.72 L698.05,453.25 L700.5,452.49 L702.9,451.51 L705.55,451.73 L708,450.99 L710.99,451.47 L714.05,451.2 L717,451.98 L719.21,453.29 L721.5,454.4 L723.91,455.2 L726.72,452.72 L729.01,450.01 L731.54,449.49 L733.85,448.42 L736.11,447.25 L739,446.89 L742,446.68 L745,446.9 L747,451" fill="none" stroke="#363636" stroke-width="1.05"/>
<path d="M747,451 L750.05,450.85 L752.95,452.11 L756.02,451.81 L758.9,450.69 L762,450 L764.61,451.44 L767.09,453.15 L770.06,453.88 L772.99,453.46 L775.97,452.79 L777.93,450.45 L779.91,447.92 L780.78,445.39 L780.19,442.61 L781,440" fill="none" stroke="#363636" stroke-width="1.05"/>
<path d="M747,451 L749.66,451.71 L752.34,452.29 L754.99,453.05 L757.67,454.33 L760.14,456.06 L763.06,456.87 L764.09,460.98 L761.39,462.14 L758.81,463.37 L756.07,464.2 L752.57,464.98 L749.04,465.28 L747.81,467.23 L746,469" fill="none" stroke="#363636" stroke-width="1.05"/>
<path d="M706,483 L708.8,481.1 L711.94,479.88 L715.22,478.94 L717.99,476.98 L720.96,478.11 L724.08,478.76 L727.02,479.41 L730.05,479.68 L734,478" fill="none" stroke="#363636" stroke-width="1.05"/>
<path d="M734,478 L740,473 L746,469" fill="none" stroke="#363636" stroke-width="1.05"/>
<path d="M746,469 L749.24,470.02 L751.86,472.27 L754.23,474.34 L757.18,475.78 L759.65,477.25 L762.11,478.82 L762.6,481.66 L763.89,484.04 L767.09,485.32 L770,486.99 L772.86,488.78 L776.09,489.82 L776.82,492.57 L777.82,495.07 L779,496" fill="none" stroke="#363636" stroke-width="1.05"/>
<path d="M734,478 L735.34,480.89 L735.94,484.02 L737.57,486.96 L739.1,489.95 L741.82,491.6 L743.9,494.13 L747.5,494.49 L751,494" fill="none" stroke="#363636" stroke-width="1.05"/>
<path d="M751,494 L760,492 L768,490 L774,492 L779,496 L774,499 L766,500 L758,498 L751,494" fill="none" stroke="#363636" stroke-width="1.05"/>
<path d="M779,496 L779.72,492.91 L780.74,489.91 L782.43,486.96 L784.28,484.14 L785.92,481.49 L787.54,478.8 L789.17,476.11 L791.5,476.02 L794,476.28 L795.39,479.06 L797,482 L798.32,484.29 L800.71,485.69 L801.89,488.09 L805.07,488.06 L808,489" fill="none" stroke="#363636" stroke-width="1.05"/>
<path d="M751,494 L750.07,496.6 L749.65,499.33 L749.08,502.02 L750.93,504.5 L752.62,507.15 L753.8,510.13 L755.32,512.67 L756.41,515.46 L757.94,518.03 L758.95,520.86 L760.5,523.42 L762.23,525.89 L763.7,528.3 L766.06,529.94 L768,532" fill="none" stroke="#363636" stroke-width="1.05"/>
<path d="M768,532 L770.16,533.28 L771.92,535.11 L773.96,536.55 L776.15,537.8 L777.81,539.76 L780.1,540.86 L781.83,542.72 L784.09,543.88 L786.64,545.07 L789.21,546.34 L791.98,547.06 L794.87,545.61 L798.04,545.12 L798.3,548 L798.39,551 L797.81,554 L798.65,556.63 L798.88,559.31 L799.3,561.96 L798.26,564.62 L798.25,567.32 L798.08,570.01 L799.37,572.65 L800.64,575.35 L802.07,577.96 L804.55,579.56 L807.37,580.59 L810.09,581.83 L811.91,584.57 L814.07,586.95 L816.71,587 L819.38,587.26 L821.97,588.22 L824.9,588.11 L827.49,589.7 L830.35,590.05 L833.15,590.65 L836,591" fill="none" stroke="#363636" stroke-width="1.05"/>
<path d="M768,532 L764.86,533.22 L761.88,534.76 L759.31,535.57 L756.72,536.53 L754.04,537.17 L751.42,538.24 L748.81,539.39 L745.93,539.82 L744.42,542.83 L742,545" fill="none" stroke="#363636" stroke-width="1.05"/>
<path d="M742,545 L739.81,546.25 L737.96,547.95 L735.68,549.08 L734.15,551.2 L731.29,552.24 L728.46,553.26 L725.87,554.75 L723.52,556.97 L720.38,557.87 L718.06,560.1 L716.21,561.79 L714.24,563.32 L711.72,564.13 L709.86,565.81 L707.05,567.22 L704.47,569.02 L701.91,570.85 L699.32,571.2 L696.71,572 L694.03,572.26 L692.27,573.73 L689.96,574.61 L687.85,575.77 L685.09,577.68 L681.98,578.95 L679.56,579.3 L677.25,580.04 L674.96,580.87 L674.53,584.5 L673.9,587.99 L674.98,590.51 L675.75,593.1 L675.47,595.62 L674.73,598.18 L674.28,600.82 L673.97,603.48 L673,606" fill="none" stroke="#363636" stroke-width="1.05"/>
<path d="M742,545 L741.15,548.05 L740.3,551.1 L738.78,553.93 L737.11,556.53 L735.27,559.09 L734.02,562.01 L734.4,564.66 L734.17,567.4 L734.95,570.01 L736.14,572.76 L738.11,575.11 L738.77,578.12 L739.17,580.51 L739.94,582.96 L739.83,585.49 L739.7,588.03 L740.54,590.55 L740.59,593.13 L740.49,595.71 L740.74,598.28 L741.13,600.83 L740.54,603.45 L741,606" fill="none" stroke="#363636" stroke-width="1.05"/>
<path d="M823,412 L825,405 L829,399.4 L836,397" fill="none" stroke="#363636" stroke-width="1.05"/>
<path d="M834,337 L829,339 L827,344 L829,349 L834,351" fill="none" stroke="#363636" stroke-width="1.05"/>
</g>
<line x1="28" y1="60" x2="832" y2="60" stroke="#666" stroke-width="1.3"/>
<rect x="830.2" y="60" width="2.4" height="548" fill="#b4b6b6"/>
<rect x="585" y="121" width="16.5" height="16" fill="#d2e4fd" stroke="#aab4c2" stroke-width="1"/>
<rect x="585" y="144.5" width="16.5" height="16" fill="#78b0fa" stroke="#7f9fd0" stroke-width="1"/>
<rect x="585" y="168.5" width="16.5" height="16" fill="#0030f0" stroke="#3050d0" stroke-width="1"/>
</svg>
<div id="title">Average age when leaving the parental household in the EU Member States, 2015</div>
<div class="lg" style="top:123.2px">Less than 25 years</div>
<div class="lg" style="top:147.1px">From 25 to 28.5 years</div>
<div class="lg" style="top:170.3px">More than 28.5 years</div>
</body></html>
